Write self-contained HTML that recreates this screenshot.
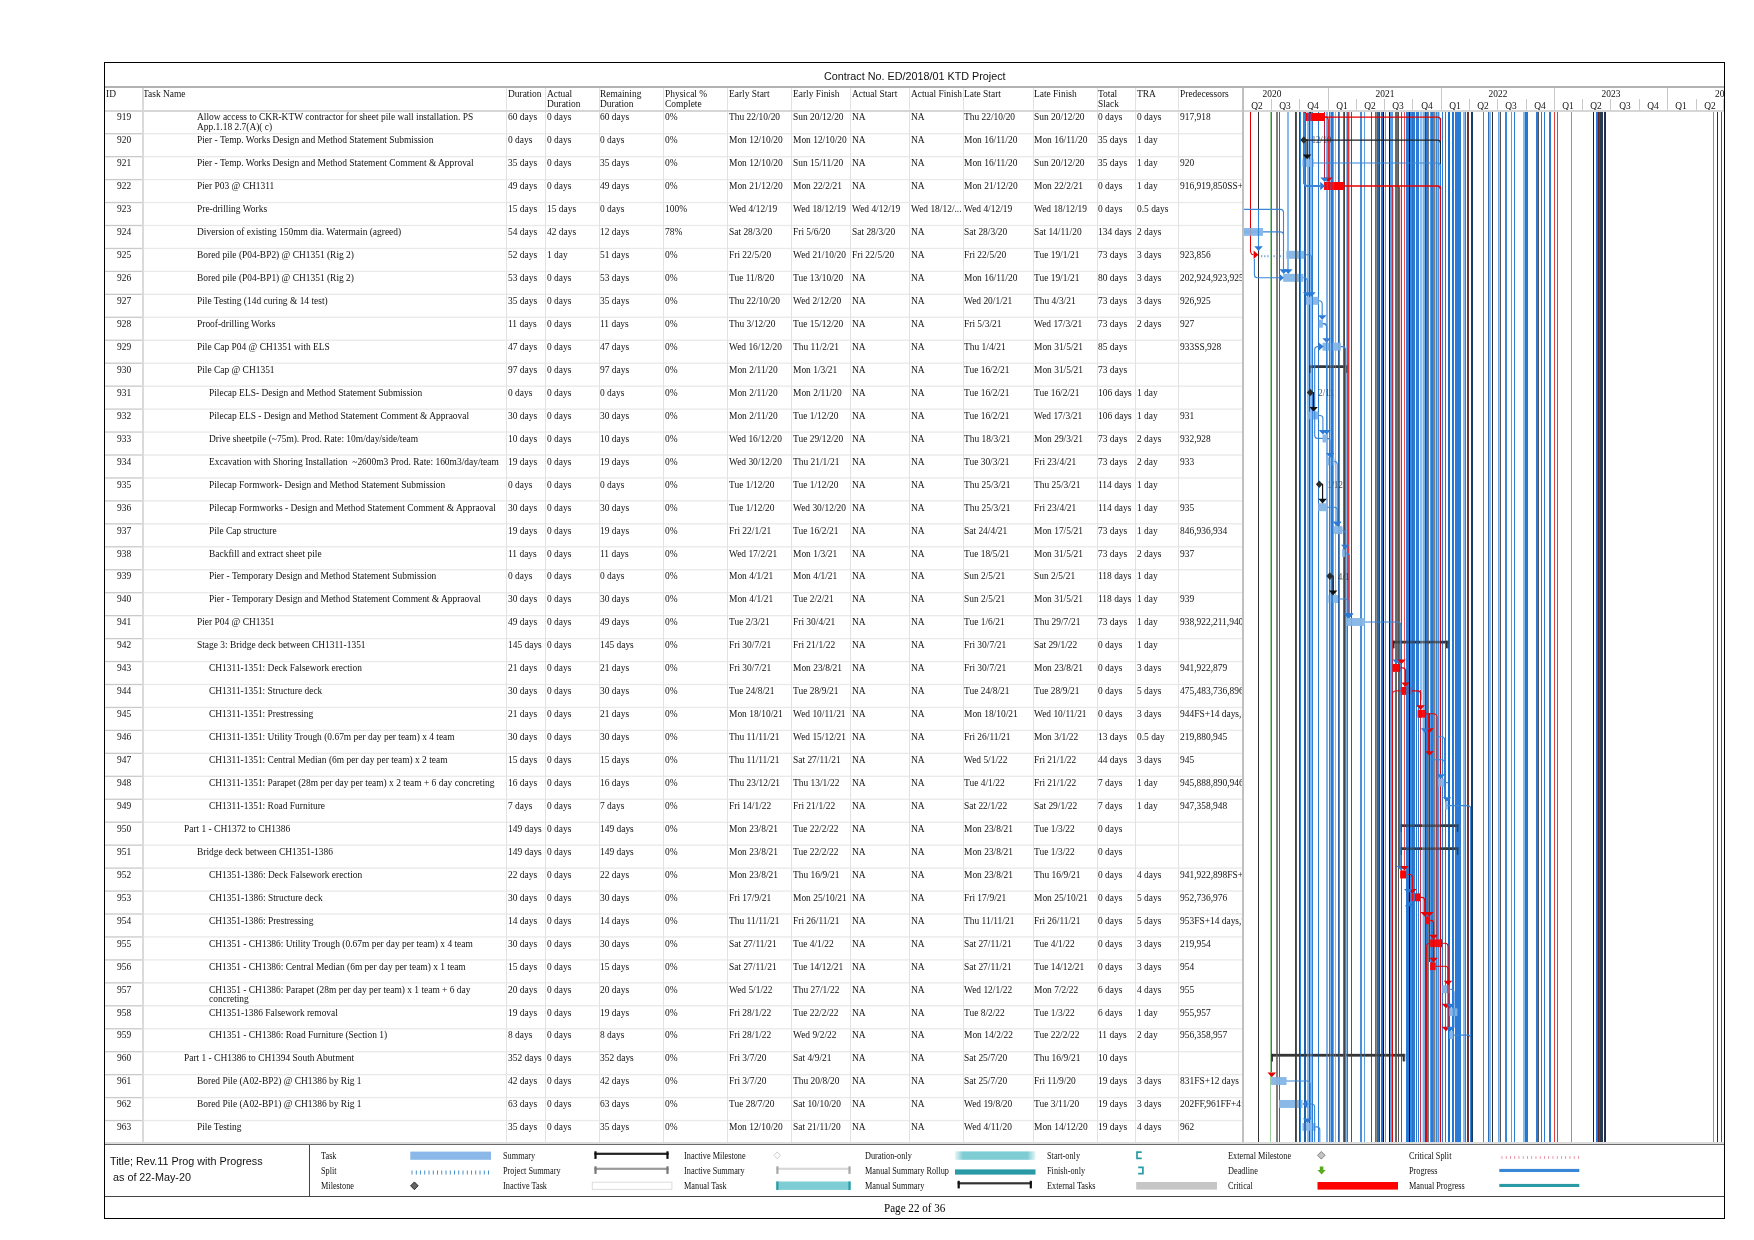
<!DOCTYPE html><html><head><meta charset="utf-8"><title>Gantt</title><style>
html,body{margin:0;padding:0;background:#fff}
body{width:1754px;height:1240px;position:relative;overflow:hidden;font-family:"Liberation Serif",serif;color:#000}
.t{position:absolute;white-space:pre;font-size:11.2px;line-height:12px;transform:scaleX(.843);transform-origin:0 0;color:#111}
.l{position:absolute;white-space:pre;font-size:9.33px;line-height:11px;transform:scaleX(.885);transform-origin:0 0;color:#111}
.s{position:absolute;white-space:pre;font-family:"Liberation Sans",sans-serif;font-size:11px;line-height:13px;transform:scaleX(.98);transform-origin:0 0;color:#111}
.q{position:absolute;white-space:pre;font-size:11.2px;line-height:12px;color:#111;text-align:center;transform:scaleX(.843);transform-origin:50% 0}
svg{position:absolute;left:0;top:0}

</style></head><body><div id="tx" style="position:absolute;left:0;top:0;width:1754px;height:1240px;will-change:transform">
<span class="t" style="left:106px;top:87.12px">ID</span>
<span class="t" style="left:143.4px;top:87.12px">Task Name</span>
<span class="t" style="left:507.8px;top:87.12px">Duration</span>
<span class="t" style="left:546.5px;top:87.12px">Actual</span>
<span class="t" style="left:546.5px;top:96.52px">Duration</span>
<span class="t" style="left:600.2px;top:87.12px">Remaining</span>
<span class="t" style="left:600.2px;top:96.52px">Duration</span>
<span class="t" style="left:664.5px;top:87.12px">Physical %</span>
<span class="t" style="left:664.5px;top:96.52px">Complete</span>
<span class="t" style="left:728.7px;top:87.12px">Early Start</span>
<span class="t" style="left:792.6px;top:87.12px">Early Finish</span>
<span class="t" style="left:851.7px;top:87.12px">Actual Start</span>
<span class="t" style="left:910.7px;top:87.12px">Actual Finish</span>
<span class="t" style="left:964.4px;top:87.12px">Late Start</span>
<span class="t" style="left:1034.3px;top:87.12px">Late Finish</span>
<span class="t" style="left:1098.1px;top:87.12px">Total</span>
<span class="t" style="left:1098.1px;top:96.52px">Slack</span>
<span class="t" style="left:1136.5px;top:87.12px">TRA</span>
<span class="t" style="left:1179.6px;top:87.12px">Predecessors</span>
<span class="t" style="left:116.6px;top:110.47px">919</span>
<span class="t" style="left:196.7px;top:110.47px">Allow access to CKR-KTW contractor for sheet pile wall installation. PS</span>
<span class="t" style="left:196.7px;top:120.07px">App.1.18 2.7(A)( c)</span>
<span class="t" style="left:507.8px;top:110.47px">60 days</span>
<span class="t" style="left:546.5px;top:110.47px">0 days</span>
<span class="t" style="left:600.2px;top:110.47px">60 days</span>
<span class="t" style="left:664.5px;top:110.47px">0%</span>
<span class="t" style="left:728.7px;top:110.47px">Thu 22/10/20</span>
<span class="t" style="left:792.6px;top:110.47px">Sun 20/12/20</span>
<span class="t" style="left:851.7px;top:110.47px">NA</span>
<span class="t" style="left:910.7px;top:110.47px">NA</span>
<span class="t" style="left:964.4px;top:110.47px">Thu 22/10/20</span>
<span class="t" style="left:1034.3px;top:110.47px">Sun 20/12/20</span>
<span class="t" style="left:1098.1px;top:110.47px">0 days</span>
<span class="t" style="left:1136.5px;top:110.47px">0 days</span>
<span class="t" style="left:1179.6px;top:110.47px;width:73.6px;overflow:hidden">917,918</span>
<span class="t" style="left:116.6px;top:133.42px">920</span>
<span class="t" style="left:196.7px;top:133.42px">Pier - Temp. Works Design and Method Statement Submission</span>
<span class="t" style="left:507.8px;top:133.42px">0 days</span>
<span class="t" style="left:546.5px;top:133.42px">0 days</span>
<span class="t" style="left:600.2px;top:133.42px">0 days</span>
<span class="t" style="left:664.5px;top:133.42px">0%</span>
<span class="t" style="left:728.7px;top:133.42px">Mon 12/10/20</span>
<span class="t" style="left:792.6px;top:133.42px">Mon 12/10/20</span>
<span class="t" style="left:851.7px;top:133.42px">NA</span>
<span class="t" style="left:910.7px;top:133.42px">NA</span>
<span class="t" style="left:964.4px;top:133.42px">Mon 16/11/20</span>
<span class="t" style="left:1034.3px;top:133.42px">Mon 16/11/20</span>
<span class="t" style="left:1098.1px;top:133.42px">35 days</span>
<span class="t" style="left:1136.5px;top:133.42px">1 day</span>
<span class="t" style="left:116.6px;top:156.37px">921</span>
<span class="t" style="left:196.7px;top:156.37px">Pier - Temp. Works Design and Method Statement Comment &amp; Approval</span>
<span class="t" style="left:507.8px;top:156.37px">35 days</span>
<span class="t" style="left:546.5px;top:156.37px">0 days</span>
<span class="t" style="left:600.2px;top:156.37px">35 days</span>
<span class="t" style="left:664.5px;top:156.37px">0%</span>
<span class="t" style="left:728.7px;top:156.37px">Mon 12/10/20</span>
<span class="t" style="left:792.6px;top:156.37px">Sun 15/11/20</span>
<span class="t" style="left:851.7px;top:156.37px">NA</span>
<span class="t" style="left:910.7px;top:156.37px">NA</span>
<span class="t" style="left:964.4px;top:156.37px">Mon 16/11/20</span>
<span class="t" style="left:1034.3px;top:156.37px">Sun 20/12/20</span>
<span class="t" style="left:1098.1px;top:156.37px">35 days</span>
<span class="t" style="left:1136.5px;top:156.37px">1 day</span>
<span class="t" style="left:1179.6px;top:156.37px;width:73.6px;overflow:hidden">920</span>
<span class="t" style="left:116.6px;top:179.32px">922</span>
<span class="t" style="left:196.7px;top:179.32px">Pier P03 @ CH1311</span>
<span class="t" style="left:507.8px;top:179.32px">49 days</span>
<span class="t" style="left:546.5px;top:179.32px">0 days</span>
<span class="t" style="left:600.2px;top:179.32px">49 days</span>
<span class="t" style="left:664.5px;top:179.32px">0%</span>
<span class="t" style="left:728.7px;top:179.32px">Mon 21/12/20</span>
<span class="t" style="left:792.6px;top:179.32px">Mon 22/2/21</span>
<span class="t" style="left:851.7px;top:179.32px">NA</span>
<span class="t" style="left:910.7px;top:179.32px">NA</span>
<span class="t" style="left:964.4px;top:179.32px">Mon 21/12/20</span>
<span class="t" style="left:1034.3px;top:179.32px">Mon 22/2/21</span>
<span class="t" style="left:1098.1px;top:179.32px">0 days</span>
<span class="t" style="left:1136.5px;top:179.32px">1 day</span>
<span class="t" style="left:1179.6px;top:179.32px;width:73.6px;overflow:hidden">916,919,850SS+</span>
<span class="t" style="left:116.6px;top:202.27px">923</span>
<span class="t" style="left:196.7px;top:202.27px">Pre-drilling Works</span>
<span class="t" style="left:507.8px;top:202.27px">15 days</span>
<span class="t" style="left:546.5px;top:202.27px">15 days</span>
<span class="t" style="left:600.2px;top:202.27px">0 days</span>
<span class="t" style="left:664.5px;top:202.27px">100%</span>
<span class="t" style="left:728.7px;top:202.27px">Wed 4/12/19</span>
<span class="t" style="left:792.6px;top:202.27px">Wed 18/12/19</span>
<span class="t" style="left:851.7px;top:202.27px">Wed 4/12/19</span>
<span class="t" style="left:910.7px;top:202.27px">Wed 18/12/...</span>
<span class="t" style="left:964.4px;top:202.27px">Wed 4/12/19</span>
<span class="t" style="left:1034.3px;top:202.27px">Wed 18/12/19</span>
<span class="t" style="left:1098.1px;top:202.27px">0 days</span>
<span class="t" style="left:1136.5px;top:202.27px">0.5 days</span>
<span class="t" style="left:116.6px;top:225.22px">924</span>
<span class="t" style="left:196.7px;top:225.22px">Diversion of existing 150mm dia. Watermain (agreed)</span>
<span class="t" style="left:507.8px;top:225.22px">54 days</span>
<span class="t" style="left:546.5px;top:225.22px">42 days</span>
<span class="t" style="left:600.2px;top:225.22px">12 days</span>
<span class="t" style="left:664.5px;top:225.22px">78%</span>
<span class="t" style="left:728.7px;top:225.22px">Sat 28/3/20</span>
<span class="t" style="left:792.6px;top:225.22px">Fri 5/6/20</span>
<span class="t" style="left:851.7px;top:225.22px">Sat 28/3/20</span>
<span class="t" style="left:910.7px;top:225.22px">NA</span>
<span class="t" style="left:964.4px;top:225.22px">Sat 28/3/20</span>
<span class="t" style="left:1034.3px;top:225.22px">Sat 14/11/20</span>
<span class="t" style="left:1098.1px;top:225.22px">134 days</span>
<span class="t" style="left:1136.5px;top:225.22px">2 days</span>
<span class="t" style="left:116.6px;top:248.17px">925</span>
<span class="t" style="left:196.7px;top:248.17px">Bored pile (P04-BP2) @ CH1351 (Rig 2)</span>
<span class="t" style="left:507.8px;top:248.17px">52 days</span>
<span class="t" style="left:546.5px;top:248.17px">1 day</span>
<span class="t" style="left:600.2px;top:248.17px">51 days</span>
<span class="t" style="left:664.5px;top:248.17px">0%</span>
<span class="t" style="left:728.7px;top:248.17px">Fri 22/5/20</span>
<span class="t" style="left:792.6px;top:248.17px">Wed 21/10/20</span>
<span class="t" style="left:851.7px;top:248.17px">Fri 22/5/20</span>
<span class="t" style="left:910.7px;top:248.17px">NA</span>
<span class="t" style="left:964.4px;top:248.17px">Fri 22/5/20</span>
<span class="t" style="left:1034.3px;top:248.17px">Tue 19/1/21</span>
<span class="t" style="left:1098.1px;top:248.17px">73 days</span>
<span class="t" style="left:1136.5px;top:248.17px">3 days</span>
<span class="t" style="left:1179.6px;top:248.17px;width:73.6px;overflow:hidden">923,856</span>
<span class="t" style="left:116.6px;top:271.12px">926</span>
<span class="t" style="left:196.7px;top:271.12px">Bored pile (P04-BP1) @ CH1351 (Rig 2)</span>
<span class="t" style="left:507.8px;top:271.12px">53 days</span>
<span class="t" style="left:546.5px;top:271.12px">0 days</span>
<span class="t" style="left:600.2px;top:271.12px">53 days</span>
<span class="t" style="left:664.5px;top:271.12px">0%</span>
<span class="t" style="left:728.7px;top:271.12px">Tue 11/8/20</span>
<span class="t" style="left:792.6px;top:271.12px">Tue 13/10/20</span>
<span class="t" style="left:851.7px;top:271.12px">NA</span>
<span class="t" style="left:910.7px;top:271.12px">NA</span>
<span class="t" style="left:964.4px;top:271.12px">Mon 16/11/20</span>
<span class="t" style="left:1034.3px;top:271.12px">Tue 19/1/21</span>
<span class="t" style="left:1098.1px;top:271.12px">80 days</span>
<span class="t" style="left:1136.5px;top:271.12px">3 days</span>
<span class="t" style="left:1179.6px;top:271.12px;width:73.6px;overflow:hidden">202,924,923,925</span>
<span class="t" style="left:116.6px;top:294.07px">927</span>
<span class="t" style="left:196.7px;top:294.07px">Pile Testing (14d curing &amp; 14 test)</span>
<span class="t" style="left:507.8px;top:294.07px">35 days</span>
<span class="t" style="left:546.5px;top:294.07px">0 days</span>
<span class="t" style="left:600.2px;top:294.07px">35 days</span>
<span class="t" style="left:664.5px;top:294.07px">0%</span>
<span class="t" style="left:728.7px;top:294.07px">Thu 22/10/20</span>
<span class="t" style="left:792.6px;top:294.07px">Wed 2/12/20</span>
<span class="t" style="left:851.7px;top:294.07px">NA</span>
<span class="t" style="left:910.7px;top:294.07px">NA</span>
<span class="t" style="left:964.4px;top:294.07px">Wed 20/1/21</span>
<span class="t" style="left:1034.3px;top:294.07px">Thu 4/3/21</span>
<span class="t" style="left:1098.1px;top:294.07px">73 days</span>
<span class="t" style="left:1136.5px;top:294.07px">3 days</span>
<span class="t" style="left:1179.6px;top:294.07px;width:73.6px;overflow:hidden">926,925</span>
<span class="t" style="left:116.6px;top:317.02px">928</span>
<span class="t" style="left:196.7px;top:317.02px">Proof-drilling Works</span>
<span class="t" style="left:507.8px;top:317.02px">11 days</span>
<span class="t" style="left:546.5px;top:317.02px">0 days</span>
<span class="t" style="left:600.2px;top:317.02px">11 days</span>
<span class="t" style="left:664.5px;top:317.02px">0%</span>
<span class="t" style="left:728.7px;top:317.02px">Thu 3/12/20</span>
<span class="t" style="left:792.6px;top:317.02px">Tue 15/12/20</span>
<span class="t" style="left:851.7px;top:317.02px">NA</span>
<span class="t" style="left:910.7px;top:317.02px">NA</span>
<span class="t" style="left:964.4px;top:317.02px">Fri 5/3/21</span>
<span class="t" style="left:1034.3px;top:317.02px">Wed 17/3/21</span>
<span class="t" style="left:1098.1px;top:317.02px">73 days</span>
<span class="t" style="left:1136.5px;top:317.02px">2 days</span>
<span class="t" style="left:1179.6px;top:317.02px;width:73.6px;overflow:hidden">927</span>
<span class="t" style="left:116.6px;top:339.97px">929</span>
<span class="t" style="left:196.7px;top:339.97px">Pile Cap P04 @ CH1351 with ELS</span>
<span class="t" style="left:507.8px;top:339.97px">47 days</span>
<span class="t" style="left:546.5px;top:339.97px">0 days</span>
<span class="t" style="left:600.2px;top:339.97px">47 days</span>
<span class="t" style="left:664.5px;top:339.97px">0%</span>
<span class="t" style="left:728.7px;top:339.97px">Wed 16/12/20</span>
<span class="t" style="left:792.6px;top:339.97px">Thu 11/2/21</span>
<span class="t" style="left:851.7px;top:339.97px">NA</span>
<span class="t" style="left:910.7px;top:339.97px">NA</span>
<span class="t" style="left:964.4px;top:339.97px">Thu 1/4/21</span>
<span class="t" style="left:1034.3px;top:339.97px">Mon 31/5/21</span>
<span class="t" style="left:1098.1px;top:339.97px">85 days</span>
<span class="t" style="left:1179.6px;top:339.97px;width:73.6px;overflow:hidden">933SS,928</span>
<span class="t" style="left:116.6px;top:362.92px">930</span>
<span class="t" style="left:196.7px;top:362.92px">Pile Cap @ CH1351</span>
<span class="t" style="left:507.8px;top:362.92px">97 days</span>
<span class="t" style="left:546.5px;top:362.92px">0 days</span>
<span class="t" style="left:600.2px;top:362.92px">97 days</span>
<span class="t" style="left:664.5px;top:362.92px">0%</span>
<span class="t" style="left:728.7px;top:362.92px">Mon 2/11/20</span>
<span class="t" style="left:792.6px;top:362.92px">Mon 1/3/21</span>
<span class="t" style="left:851.7px;top:362.92px">NA</span>
<span class="t" style="left:910.7px;top:362.92px">NA</span>
<span class="t" style="left:964.4px;top:362.92px">Tue 16/2/21</span>
<span class="t" style="left:1034.3px;top:362.92px">Mon 31/5/21</span>
<span class="t" style="left:1098.1px;top:362.92px">73 days</span>
<span class="t" style="left:116.6px;top:385.87px">931</span>
<span class="t" style="left:209.1px;top:385.87px">Pilecap ELS- Design and Method Statement Submission</span>
<span class="t" style="left:507.8px;top:385.87px">0 days</span>
<span class="t" style="left:546.5px;top:385.87px">0 days</span>
<span class="t" style="left:600.2px;top:385.87px">0 days</span>
<span class="t" style="left:664.5px;top:385.87px">0%</span>
<span class="t" style="left:728.7px;top:385.87px">Mon 2/11/20</span>
<span class="t" style="left:792.6px;top:385.87px">Mon 2/11/20</span>
<span class="t" style="left:851.7px;top:385.87px">NA</span>
<span class="t" style="left:910.7px;top:385.87px">NA</span>
<span class="t" style="left:964.4px;top:385.87px">Tue 16/2/21</span>
<span class="t" style="left:1034.3px;top:385.87px">Tue 16/2/21</span>
<span class="t" style="left:1098.1px;top:385.87px">106 days</span>
<span class="t" style="left:1136.5px;top:385.87px">1 day</span>
<span class="t" style="left:116.6px;top:408.82px">932</span>
<span class="t" style="left:209.1px;top:408.82px">Pilecap ELS - Design and Method Statement Comment &amp; Appraoval</span>
<span class="t" style="left:507.8px;top:408.82px">30 days</span>
<span class="t" style="left:546.5px;top:408.82px">0 days</span>
<span class="t" style="left:600.2px;top:408.82px">30 days</span>
<span class="t" style="left:664.5px;top:408.82px">0%</span>
<span class="t" style="left:728.7px;top:408.82px">Mon 2/11/20</span>
<span class="t" style="left:792.6px;top:408.82px">Tue 1/12/20</span>
<span class="t" style="left:851.7px;top:408.82px">NA</span>
<span class="t" style="left:910.7px;top:408.82px">NA</span>
<span class="t" style="left:964.4px;top:408.82px">Tue 16/2/21</span>
<span class="t" style="left:1034.3px;top:408.82px">Wed 17/3/21</span>
<span class="t" style="left:1098.1px;top:408.82px">106 days</span>
<span class="t" style="left:1136.5px;top:408.82px">1 day</span>
<span class="t" style="left:1179.6px;top:408.82px;width:73.6px;overflow:hidden">931</span>
<span class="t" style="left:116.6px;top:431.77px">933</span>
<span class="t" style="left:209.1px;top:431.77px">Drive sheetpile (~75m). Prod. Rate: 10m/day/side/team</span>
<span class="t" style="left:507.8px;top:431.77px">10 days</span>
<span class="t" style="left:546.5px;top:431.77px">0 days</span>
<span class="t" style="left:600.2px;top:431.77px">10 days</span>
<span class="t" style="left:664.5px;top:431.77px">0%</span>
<span class="t" style="left:728.7px;top:431.77px">Wed 16/12/20</span>
<span class="t" style="left:792.6px;top:431.77px">Tue 29/12/20</span>
<span class="t" style="left:851.7px;top:431.77px">NA</span>
<span class="t" style="left:910.7px;top:431.77px">NA</span>
<span class="t" style="left:964.4px;top:431.77px">Thu 18/3/21</span>
<span class="t" style="left:1034.3px;top:431.77px">Mon 29/3/21</span>
<span class="t" style="left:1098.1px;top:431.77px">73 days</span>
<span class="t" style="left:1136.5px;top:431.77px">2 days</span>
<span class="t" style="left:1179.6px;top:431.77px;width:73.6px;overflow:hidden">932,928</span>
<span class="t" style="left:116.6px;top:454.72px">934</span>
<span class="t" style="left:209.1px;top:454.72px">Excavation with Shoring Installation  ~2600m3 Prod. Rate: 160m3/day/team</span>
<span class="t" style="left:507.8px;top:454.72px">19 days</span>
<span class="t" style="left:546.5px;top:454.72px">0 days</span>
<span class="t" style="left:600.2px;top:454.72px">19 days</span>
<span class="t" style="left:664.5px;top:454.72px">0%</span>
<span class="t" style="left:728.7px;top:454.72px">Wed 30/12/20</span>
<span class="t" style="left:792.6px;top:454.72px">Thu 21/1/21</span>
<span class="t" style="left:851.7px;top:454.72px">NA</span>
<span class="t" style="left:910.7px;top:454.72px">NA</span>
<span class="t" style="left:964.4px;top:454.72px">Tue 30/3/21</span>
<span class="t" style="left:1034.3px;top:454.72px">Fri 23/4/21</span>
<span class="t" style="left:1098.1px;top:454.72px">73 days</span>
<span class="t" style="left:1136.5px;top:454.72px">2 day</span>
<span class="t" style="left:1179.6px;top:454.72px;width:73.6px;overflow:hidden">933</span>
<span class="t" style="left:116.6px;top:477.67px">935</span>
<span class="t" style="left:209.1px;top:477.67px">Pilecap Formwork- Design and Method Statement Submission</span>
<span class="t" style="left:507.8px;top:477.67px">0 days</span>
<span class="t" style="left:546.5px;top:477.67px">0 days</span>
<span class="t" style="left:600.2px;top:477.67px">0 days</span>
<span class="t" style="left:664.5px;top:477.67px">0%</span>
<span class="t" style="left:728.7px;top:477.67px">Tue 1/12/20</span>
<span class="t" style="left:792.6px;top:477.67px">Tue 1/12/20</span>
<span class="t" style="left:851.7px;top:477.67px">NA</span>
<span class="t" style="left:910.7px;top:477.67px">NA</span>
<span class="t" style="left:964.4px;top:477.67px">Thu 25/3/21</span>
<span class="t" style="left:1034.3px;top:477.67px">Thu 25/3/21</span>
<span class="t" style="left:1098.1px;top:477.67px">114 days</span>
<span class="t" style="left:1136.5px;top:477.67px">1 day</span>
<span class="t" style="left:116.6px;top:500.62px">936</span>
<span class="t" style="left:209.1px;top:500.62px">Pilecap Formworks - Design and Method Statement Comment &amp; Appraoval</span>
<span class="t" style="left:507.8px;top:500.62px">30 days</span>
<span class="t" style="left:546.5px;top:500.62px">0 days</span>
<span class="t" style="left:600.2px;top:500.62px">30 days</span>
<span class="t" style="left:664.5px;top:500.62px">0%</span>
<span class="t" style="left:728.7px;top:500.62px">Tue 1/12/20</span>
<span class="t" style="left:792.6px;top:500.62px">Wed 30/12/20</span>
<span class="t" style="left:851.7px;top:500.62px">NA</span>
<span class="t" style="left:910.7px;top:500.62px">NA</span>
<span class="t" style="left:964.4px;top:500.62px">Thu 25/3/21</span>
<span class="t" style="left:1034.3px;top:500.62px">Fri 23/4/21</span>
<span class="t" style="left:1098.1px;top:500.62px">114 days</span>
<span class="t" style="left:1136.5px;top:500.62px">1 day</span>
<span class="t" style="left:1179.6px;top:500.62px;width:73.6px;overflow:hidden">935</span>
<span class="t" style="left:116.6px;top:523.57px">937</span>
<span class="t" style="left:209.1px;top:523.57px">Pile Cap structure</span>
<span class="t" style="left:507.8px;top:523.57px">19 days</span>
<span class="t" style="left:546.5px;top:523.57px">0 days</span>
<span class="t" style="left:600.2px;top:523.57px">19 days</span>
<span class="t" style="left:664.5px;top:523.57px">0%</span>
<span class="t" style="left:728.7px;top:523.57px">Fri 22/1/21</span>
<span class="t" style="left:792.6px;top:523.57px">Tue 16/2/21</span>
<span class="t" style="left:851.7px;top:523.57px">NA</span>
<span class="t" style="left:910.7px;top:523.57px">NA</span>
<span class="t" style="left:964.4px;top:523.57px">Sat 24/4/21</span>
<span class="t" style="left:1034.3px;top:523.57px">Mon 17/5/21</span>
<span class="t" style="left:1098.1px;top:523.57px">73 days</span>
<span class="t" style="left:1136.5px;top:523.57px">1 day</span>
<span class="t" style="left:1179.6px;top:523.57px;width:73.6px;overflow:hidden">846,936,934</span>
<span class="t" style="left:116.6px;top:546.52px">938</span>
<span class="t" style="left:209.1px;top:546.52px">Backfill and extract sheet pile</span>
<span class="t" style="left:507.8px;top:546.52px">11 days</span>
<span class="t" style="left:546.5px;top:546.52px">0 days</span>
<span class="t" style="left:600.2px;top:546.52px">11 days</span>
<span class="t" style="left:664.5px;top:546.52px">0%</span>
<span class="t" style="left:728.7px;top:546.52px">Wed 17/2/21</span>
<span class="t" style="left:792.6px;top:546.52px">Mon 1/3/21</span>
<span class="t" style="left:851.7px;top:546.52px">NA</span>
<span class="t" style="left:910.7px;top:546.52px">NA</span>
<span class="t" style="left:964.4px;top:546.52px">Tue 18/5/21</span>
<span class="t" style="left:1034.3px;top:546.52px">Mon 31/5/21</span>
<span class="t" style="left:1098.1px;top:546.52px">73 days</span>
<span class="t" style="left:1136.5px;top:546.52px">2 days</span>
<span class="t" style="left:1179.6px;top:546.52px;width:73.6px;overflow:hidden">937</span>
<span class="t" style="left:116.6px;top:569.47px">939</span>
<span class="t" style="left:209.1px;top:569.47px">Pier - Temporary Design and Method Statement Submission</span>
<span class="t" style="left:507.8px;top:569.47px">0 days</span>
<span class="t" style="left:546.5px;top:569.47px">0 days</span>
<span class="t" style="left:600.2px;top:569.47px">0 days</span>
<span class="t" style="left:664.5px;top:569.47px">0%</span>
<span class="t" style="left:728.7px;top:569.47px">Mon 4/1/21</span>
<span class="t" style="left:792.6px;top:569.47px">Mon 4/1/21</span>
<span class="t" style="left:851.7px;top:569.47px">NA</span>
<span class="t" style="left:910.7px;top:569.47px">NA</span>
<span class="t" style="left:964.4px;top:569.47px">Sun 2/5/21</span>
<span class="t" style="left:1034.3px;top:569.47px">Sun 2/5/21</span>
<span class="t" style="left:1098.1px;top:569.47px">118 days</span>
<span class="t" style="left:1136.5px;top:569.47px">1 day</span>
<span class="t" style="left:116.6px;top:592.42px">940</span>
<span class="t" style="left:209.1px;top:592.42px">Pier - Temporary Design and Method Statement Comment &amp; Appraoval</span>
<span class="t" style="left:507.8px;top:592.42px">30 days</span>
<span class="t" style="left:546.5px;top:592.42px">0 days</span>
<span class="t" style="left:600.2px;top:592.42px">30 days</span>
<span class="t" style="left:664.5px;top:592.42px">0%</span>
<span class="t" style="left:728.7px;top:592.42px">Mon 4/1/21</span>
<span class="t" style="left:792.6px;top:592.42px">Tue 2/2/21</span>
<span class="t" style="left:851.7px;top:592.42px">NA</span>
<span class="t" style="left:910.7px;top:592.42px">NA</span>
<span class="t" style="left:964.4px;top:592.42px">Sun 2/5/21</span>
<span class="t" style="left:1034.3px;top:592.42px">Mon 31/5/21</span>
<span class="t" style="left:1098.1px;top:592.42px">118 days</span>
<span class="t" style="left:1136.5px;top:592.42px">1 day</span>
<span class="t" style="left:1179.6px;top:592.42px;width:73.6px;overflow:hidden">939</span>
<span class="t" style="left:116.6px;top:615.37px">941</span>
<span class="t" style="left:196.7px;top:615.37px">Pier P04 @ CH1351</span>
<span class="t" style="left:507.8px;top:615.37px">49 days</span>
<span class="t" style="left:546.5px;top:615.37px">0 days</span>
<span class="t" style="left:600.2px;top:615.37px">49 days</span>
<span class="t" style="left:664.5px;top:615.37px">0%</span>
<span class="t" style="left:728.7px;top:615.37px">Tue 2/3/21</span>
<span class="t" style="left:792.6px;top:615.37px">Fri 30/4/21</span>
<span class="t" style="left:851.7px;top:615.37px">NA</span>
<span class="t" style="left:910.7px;top:615.37px">NA</span>
<span class="t" style="left:964.4px;top:615.37px">Tue 1/6/21</span>
<span class="t" style="left:1034.3px;top:615.37px">Thu 29/7/21</span>
<span class="t" style="left:1098.1px;top:615.37px">73 days</span>
<span class="t" style="left:1136.5px;top:615.37px">1 day</span>
<span class="t" style="left:1179.6px;top:615.37px;width:73.6px;overflow:hidden">938,922,211,940</span>
<span class="t" style="left:116.6px;top:638.32px">942</span>
<span class="t" style="left:196.7px;top:638.32px">Stage 3: Bridge deck between CH1311-1351</span>
<span class="t" style="left:507.8px;top:638.32px">145 days</span>
<span class="t" style="left:546.5px;top:638.32px">0 days</span>
<span class="t" style="left:600.2px;top:638.32px">145 days</span>
<span class="t" style="left:664.5px;top:638.32px">0%</span>
<span class="t" style="left:728.7px;top:638.32px">Fri 30/7/21</span>
<span class="t" style="left:792.6px;top:638.32px">Fri 21/1/22</span>
<span class="t" style="left:851.7px;top:638.32px">NA</span>
<span class="t" style="left:910.7px;top:638.32px">NA</span>
<span class="t" style="left:964.4px;top:638.32px">Fri 30/7/21</span>
<span class="t" style="left:1034.3px;top:638.32px">Sat 29/1/22</span>
<span class="t" style="left:1098.1px;top:638.32px">0 days</span>
<span class="t" style="left:1136.5px;top:638.32px">1 day</span>
<span class="t" style="left:116.6px;top:661.27px">943</span>
<span class="t" style="left:209.1px;top:661.27px">CH1311-1351: Deck Falsework erection</span>
<span class="t" style="left:507.8px;top:661.27px">21 days</span>
<span class="t" style="left:546.5px;top:661.27px">0 days</span>
<span class="t" style="left:600.2px;top:661.27px">21 days</span>
<span class="t" style="left:664.5px;top:661.27px">0%</span>
<span class="t" style="left:728.7px;top:661.27px">Fri 30/7/21</span>
<span class="t" style="left:792.6px;top:661.27px">Mon 23/8/21</span>
<span class="t" style="left:851.7px;top:661.27px">NA</span>
<span class="t" style="left:910.7px;top:661.27px">NA</span>
<span class="t" style="left:964.4px;top:661.27px">Fri 30/7/21</span>
<span class="t" style="left:1034.3px;top:661.27px">Mon 23/8/21</span>
<span class="t" style="left:1098.1px;top:661.27px">0 days</span>
<span class="t" style="left:1136.5px;top:661.27px">3 days</span>
<span class="t" style="left:1179.6px;top:661.27px;width:73.6px;overflow:hidden">941,922,879</span>
<span class="t" style="left:116.6px;top:684.22px">944</span>
<span class="t" style="left:209.1px;top:684.22px">CH1311-1351: Structure deck</span>
<span class="t" style="left:507.8px;top:684.22px">30 days</span>
<span class="t" style="left:546.5px;top:684.22px">0 days</span>
<span class="t" style="left:600.2px;top:684.22px">30 days</span>
<span class="t" style="left:664.5px;top:684.22px">0%</span>
<span class="t" style="left:728.7px;top:684.22px">Tue 24/8/21</span>
<span class="t" style="left:792.6px;top:684.22px">Tue 28/9/21</span>
<span class="t" style="left:851.7px;top:684.22px">NA</span>
<span class="t" style="left:910.7px;top:684.22px">NA</span>
<span class="t" style="left:964.4px;top:684.22px">Tue 24/8/21</span>
<span class="t" style="left:1034.3px;top:684.22px">Tue 28/9/21</span>
<span class="t" style="left:1098.1px;top:684.22px">0 days</span>
<span class="t" style="left:1136.5px;top:684.22px">5 days</span>
<span class="t" style="left:1179.6px;top:684.22px;width:73.6px;overflow:hidden">475,483,736,896</span>
<span class="t" style="left:116.6px;top:707.17px">945</span>
<span class="t" style="left:209.1px;top:707.17px">CH1311-1351: Prestressing</span>
<span class="t" style="left:507.8px;top:707.17px">21 days</span>
<span class="t" style="left:546.5px;top:707.17px">0 days</span>
<span class="t" style="left:600.2px;top:707.17px">21 days</span>
<span class="t" style="left:664.5px;top:707.17px">0%</span>
<span class="t" style="left:728.7px;top:707.17px">Mon 18/10/21</span>
<span class="t" style="left:792.6px;top:707.17px">Wed 10/11/21</span>
<span class="t" style="left:851.7px;top:707.17px">NA</span>
<span class="t" style="left:910.7px;top:707.17px">NA</span>
<span class="t" style="left:964.4px;top:707.17px">Mon 18/10/21</span>
<span class="t" style="left:1034.3px;top:707.17px">Wed 10/11/21</span>
<span class="t" style="left:1098.1px;top:707.17px">0 days</span>
<span class="t" style="left:1136.5px;top:707.17px">3 days</span>
<span class="t" style="left:1179.6px;top:707.17px;width:73.6px;overflow:hidden">944FS+14 days,8</span>
<span class="t" style="left:116.6px;top:730.12px">946</span>
<span class="t" style="left:209.1px;top:730.12px">CH1311-1351: Utility Trough (0.67m per day per team) x 4 team</span>
<span class="t" style="left:507.8px;top:730.12px">30 days</span>
<span class="t" style="left:546.5px;top:730.12px">0 days</span>
<span class="t" style="left:600.2px;top:730.12px">30 days</span>
<span class="t" style="left:664.5px;top:730.12px">0%</span>
<span class="t" style="left:728.7px;top:730.12px">Thu 11/11/21</span>
<span class="t" style="left:792.6px;top:730.12px">Wed 15/12/21</span>
<span class="t" style="left:851.7px;top:730.12px">NA</span>
<span class="t" style="left:910.7px;top:730.12px">NA</span>
<span class="t" style="left:964.4px;top:730.12px">Fri 26/11/21</span>
<span class="t" style="left:1034.3px;top:730.12px">Mon 3/1/22</span>
<span class="t" style="left:1098.1px;top:730.12px">13 days</span>
<span class="t" style="left:1136.5px;top:730.12px">0.5 day</span>
<span class="t" style="left:1179.6px;top:730.12px;width:73.6px;overflow:hidden">219,880,945</span>
<span class="t" style="left:116.6px;top:753.07px">947</span>
<span class="t" style="left:209.1px;top:753.07px">CH1311-1351: Central Median (6m per day per team) x 2 team</span>
<span class="t" style="left:507.8px;top:753.07px">15 days</span>
<span class="t" style="left:546.5px;top:753.07px">0 days</span>
<span class="t" style="left:600.2px;top:753.07px">15 days</span>
<span class="t" style="left:664.5px;top:753.07px">0%</span>
<span class="t" style="left:728.7px;top:753.07px">Thu 11/11/21</span>
<span class="t" style="left:792.6px;top:753.07px">Sat 27/11/21</span>
<span class="t" style="left:851.7px;top:753.07px">NA</span>
<span class="t" style="left:910.7px;top:753.07px">NA</span>
<span class="t" style="left:964.4px;top:753.07px">Wed 5/1/22</span>
<span class="t" style="left:1034.3px;top:753.07px">Fri 21/1/22</span>
<span class="t" style="left:1098.1px;top:753.07px">44 days</span>
<span class="t" style="left:1136.5px;top:753.07px">3 days</span>
<span class="t" style="left:1179.6px;top:753.07px;width:73.6px;overflow:hidden">945</span>
<span class="t" style="left:116.6px;top:776.02px">948</span>
<span class="t" style="left:209.1px;top:776.02px">CH1311-1351: Parapet (28m per day per team) x 2 team + 6 day concreting</span>
<span class="t" style="left:507.8px;top:776.02px">16 days</span>
<span class="t" style="left:546.5px;top:776.02px">0 days</span>
<span class="t" style="left:600.2px;top:776.02px">16 days</span>
<span class="t" style="left:664.5px;top:776.02px">0%</span>
<span class="t" style="left:728.7px;top:776.02px">Thu 23/12/21</span>
<span class="t" style="left:792.6px;top:776.02px">Thu 13/1/22</span>
<span class="t" style="left:851.7px;top:776.02px">NA</span>
<span class="t" style="left:910.7px;top:776.02px">NA</span>
<span class="t" style="left:964.4px;top:776.02px">Tue 4/1/22</span>
<span class="t" style="left:1034.3px;top:776.02px">Fri 21/1/22</span>
<span class="t" style="left:1098.1px;top:776.02px">7 days</span>
<span class="t" style="left:1136.5px;top:776.02px">1 day</span>
<span class="t" style="left:1179.6px;top:776.02px;width:73.6px;overflow:hidden">945,888,890,946</span>
<span class="t" style="left:116.6px;top:798.97px">949</span>
<span class="t" style="left:209.1px;top:798.97px">CH1311-1351: Road Furniture</span>
<span class="t" style="left:507.8px;top:798.97px">7 days</span>
<span class="t" style="left:546.5px;top:798.97px">0 days</span>
<span class="t" style="left:600.2px;top:798.97px">7 days</span>
<span class="t" style="left:664.5px;top:798.97px">0%</span>
<span class="t" style="left:728.7px;top:798.97px">Fri 14/1/22</span>
<span class="t" style="left:792.6px;top:798.97px">Fri 21/1/22</span>
<span class="t" style="left:851.7px;top:798.97px">NA</span>
<span class="t" style="left:910.7px;top:798.97px">NA</span>
<span class="t" style="left:964.4px;top:798.97px">Sat 22/1/22</span>
<span class="t" style="left:1034.3px;top:798.97px">Sat 29/1/22</span>
<span class="t" style="left:1098.1px;top:798.97px">7 days</span>
<span class="t" style="left:1136.5px;top:798.97px">1 day</span>
<span class="t" style="left:1179.6px;top:798.97px;width:73.6px;overflow:hidden">947,358,948</span>
<span class="t" style="left:116.6px;top:821.92px">950</span>
<span class="t" style="left:184.3px;top:821.92px">Part 1 - CH1372 to CH1386</span>
<span class="t" style="left:507.8px;top:821.92px">149 days</span>
<span class="t" style="left:546.5px;top:821.92px">0 days</span>
<span class="t" style="left:600.2px;top:821.92px">149 days</span>
<span class="t" style="left:664.5px;top:821.92px">0%</span>
<span class="t" style="left:728.7px;top:821.92px">Mon 23/8/21</span>
<span class="t" style="left:792.6px;top:821.92px">Tue 22/2/22</span>
<span class="t" style="left:851.7px;top:821.92px">NA</span>
<span class="t" style="left:910.7px;top:821.92px">NA</span>
<span class="t" style="left:964.4px;top:821.92px">Mon 23/8/21</span>
<span class="t" style="left:1034.3px;top:821.92px">Tue 1/3/22</span>
<span class="t" style="left:1098.1px;top:821.92px">0 days</span>
<span class="t" style="left:116.6px;top:844.87px">951</span>
<span class="t" style="left:196.7px;top:844.87px">Bridge deck between CH1351-1386</span>
<span class="t" style="left:507.8px;top:844.87px">149 days</span>
<span class="t" style="left:546.5px;top:844.87px">0 days</span>
<span class="t" style="left:600.2px;top:844.87px">149 days</span>
<span class="t" style="left:664.5px;top:844.87px">0%</span>
<span class="t" style="left:728.7px;top:844.87px">Mon 23/8/21</span>
<span class="t" style="left:792.6px;top:844.87px">Tue 22/2/22</span>
<span class="t" style="left:851.7px;top:844.87px">NA</span>
<span class="t" style="left:910.7px;top:844.87px">NA</span>
<span class="t" style="left:964.4px;top:844.87px">Mon 23/8/21</span>
<span class="t" style="left:1034.3px;top:844.87px">Tue 1/3/22</span>
<span class="t" style="left:1098.1px;top:844.87px">0 days</span>
<span class="t" style="left:116.6px;top:867.82px">952</span>
<span class="t" style="left:209.1px;top:867.82px">CH1351-1386: Deck Falsework erection</span>
<span class="t" style="left:507.8px;top:867.82px">22 days</span>
<span class="t" style="left:546.5px;top:867.82px">0 days</span>
<span class="t" style="left:600.2px;top:867.82px">22 days</span>
<span class="t" style="left:664.5px;top:867.82px">0%</span>
<span class="t" style="left:728.7px;top:867.82px">Mon 23/8/21</span>
<span class="t" style="left:792.6px;top:867.82px">Thu 16/9/21</span>
<span class="t" style="left:851.7px;top:867.82px">NA</span>
<span class="t" style="left:910.7px;top:867.82px">NA</span>
<span class="t" style="left:964.4px;top:867.82px">Mon 23/8/21</span>
<span class="t" style="left:1034.3px;top:867.82px">Thu 16/9/21</span>
<span class="t" style="left:1098.1px;top:867.82px">0 days</span>
<span class="t" style="left:1136.5px;top:867.82px">4 days</span>
<span class="t" style="left:1179.6px;top:867.82px;width:73.6px;overflow:hidden">941,922,898FS+</span>
<span class="t" style="left:116.6px;top:890.77px">953</span>
<span class="t" style="left:209.1px;top:890.77px">CH1351-1386: Structure deck</span>
<span class="t" style="left:507.8px;top:890.77px">30 days</span>
<span class="t" style="left:546.5px;top:890.77px">0 days</span>
<span class="t" style="left:600.2px;top:890.77px">30 days</span>
<span class="t" style="left:664.5px;top:890.77px">0%</span>
<span class="t" style="left:728.7px;top:890.77px">Fri 17/9/21</span>
<span class="t" style="left:792.6px;top:890.77px">Mon 25/10/21</span>
<span class="t" style="left:851.7px;top:890.77px">NA</span>
<span class="t" style="left:910.7px;top:890.77px">NA</span>
<span class="t" style="left:964.4px;top:890.77px">Fri 17/9/21</span>
<span class="t" style="left:1034.3px;top:890.77px">Mon 25/10/21</span>
<span class="t" style="left:1098.1px;top:890.77px">0 days</span>
<span class="t" style="left:1136.5px;top:890.77px">5 days</span>
<span class="t" style="left:1179.6px;top:890.77px;width:73.6px;overflow:hidden">952,736,976</span>
<span class="t" style="left:116.6px;top:913.72px">954</span>
<span class="t" style="left:209.1px;top:913.72px">CH1351-1386: Prestressing</span>
<span class="t" style="left:507.8px;top:913.72px">14 days</span>
<span class="t" style="left:546.5px;top:913.72px">0 days</span>
<span class="t" style="left:600.2px;top:913.72px">14 days</span>
<span class="t" style="left:664.5px;top:913.72px">0%</span>
<span class="t" style="left:728.7px;top:913.72px">Thu 11/11/21</span>
<span class="t" style="left:792.6px;top:913.72px">Fri 26/11/21</span>
<span class="t" style="left:851.7px;top:913.72px">NA</span>
<span class="t" style="left:910.7px;top:913.72px">NA</span>
<span class="t" style="left:964.4px;top:913.72px">Thu 11/11/21</span>
<span class="t" style="left:1034.3px;top:913.72px">Fri 26/11/21</span>
<span class="t" style="left:1098.1px;top:913.72px">0 days</span>
<span class="t" style="left:1136.5px;top:913.72px">5 days</span>
<span class="t" style="left:1179.6px;top:913.72px;width:73.6px;overflow:hidden">953FS+14 days,9</span>
<span class="t" style="left:116.6px;top:936.67px">955</span>
<span class="t" style="left:209.1px;top:936.67px">CH1351 - CH1386: Utility Trough (0.67m per day per team) x 4 team</span>
<span class="t" style="left:507.8px;top:936.67px">30 days</span>
<span class="t" style="left:546.5px;top:936.67px">0 days</span>
<span class="t" style="left:600.2px;top:936.67px">30 days</span>
<span class="t" style="left:664.5px;top:936.67px">0%</span>
<span class="t" style="left:728.7px;top:936.67px">Sat 27/11/21</span>
<span class="t" style="left:792.6px;top:936.67px">Tue 4/1/22</span>
<span class="t" style="left:851.7px;top:936.67px">NA</span>
<span class="t" style="left:910.7px;top:936.67px">NA</span>
<span class="t" style="left:964.4px;top:936.67px">Sat 27/11/21</span>
<span class="t" style="left:1034.3px;top:936.67px">Tue 4/1/22</span>
<span class="t" style="left:1098.1px;top:936.67px">0 days</span>
<span class="t" style="left:1136.5px;top:936.67px">3 days</span>
<span class="t" style="left:1179.6px;top:936.67px;width:73.6px;overflow:hidden">219,954</span>
<span class="t" style="left:116.6px;top:959.62px">956</span>
<span class="t" style="left:209.1px;top:959.62px">CH1351 - CH1386: Central Median (6m per day per team) x 1 team</span>
<span class="t" style="left:507.8px;top:959.62px">15 days</span>
<span class="t" style="left:546.5px;top:959.62px">0 days</span>
<span class="t" style="left:600.2px;top:959.62px">15 days</span>
<span class="t" style="left:664.5px;top:959.62px">0%</span>
<span class="t" style="left:728.7px;top:959.62px">Sat 27/11/21</span>
<span class="t" style="left:792.6px;top:959.62px">Tue 14/12/21</span>
<span class="t" style="left:851.7px;top:959.62px">NA</span>
<span class="t" style="left:910.7px;top:959.62px">NA</span>
<span class="t" style="left:964.4px;top:959.62px">Sat 27/11/21</span>
<span class="t" style="left:1034.3px;top:959.62px">Tue 14/12/21</span>
<span class="t" style="left:1098.1px;top:959.62px">0 days</span>
<span class="t" style="left:1136.5px;top:959.62px">3 days</span>
<span class="t" style="left:1179.6px;top:959.62px;width:73.6px;overflow:hidden">954</span>
<span class="t" style="left:116.6px;top:982.57px">957</span>
<span class="t" style="left:209.1px;top:982.57px">CH1351 - CH1386: Parapet (28m per day per team) x 1 team + 6 day</span>
<span class="t" style="left:209.1px;top:992.17px">concreting</span>
<span class="t" style="left:507.8px;top:982.57px">20 days</span>
<span class="t" style="left:546.5px;top:982.57px">0 days</span>
<span class="t" style="left:600.2px;top:982.57px">20 days</span>
<span class="t" style="left:664.5px;top:982.57px">0%</span>
<span class="t" style="left:728.7px;top:982.57px">Wed 5/1/22</span>
<span class="t" style="left:792.6px;top:982.57px">Thu 27/1/22</span>
<span class="t" style="left:851.7px;top:982.57px">NA</span>
<span class="t" style="left:910.7px;top:982.57px">NA</span>
<span class="t" style="left:964.4px;top:982.57px">Wed 12/1/22</span>
<span class="t" style="left:1034.3px;top:982.57px">Mon 7/2/22</span>
<span class="t" style="left:1098.1px;top:982.57px">6 days</span>
<span class="t" style="left:1136.5px;top:982.57px">4 days</span>
<span class="t" style="left:1179.6px;top:982.57px;width:73.6px;overflow:hidden">955</span>
<span class="t" style="left:116.6px;top:1005.52px">958</span>
<span class="t" style="left:209.1px;top:1005.52px">CH1351-1386 Falsework removal</span>
<span class="t" style="left:507.8px;top:1005.52px">19 days</span>
<span class="t" style="left:546.5px;top:1005.52px">0 days</span>
<span class="t" style="left:600.2px;top:1005.52px">19 days</span>
<span class="t" style="left:664.5px;top:1005.52px">0%</span>
<span class="t" style="left:728.7px;top:1005.52px">Fri 28/1/22</span>
<span class="t" style="left:792.6px;top:1005.52px">Tue 22/2/22</span>
<span class="t" style="left:851.7px;top:1005.52px">NA</span>
<span class="t" style="left:910.7px;top:1005.52px">NA</span>
<span class="t" style="left:964.4px;top:1005.52px">Tue 8/2/22</span>
<span class="t" style="left:1034.3px;top:1005.52px">Tue 1/3/22</span>
<span class="t" style="left:1098.1px;top:1005.52px">6 days</span>
<span class="t" style="left:1136.5px;top:1005.52px">1 day</span>
<span class="t" style="left:1179.6px;top:1005.52px;width:73.6px;overflow:hidden">955,957</span>
<span class="t" style="left:116.6px;top:1028.47px">959</span>
<span class="t" style="left:209.1px;top:1028.47px">CH1351 - CH1386: Road Furniture (Section 1)</span>
<span class="t" style="left:507.8px;top:1028.47px">8 days</span>
<span class="t" style="left:546.5px;top:1028.47px">0 days</span>
<span class="t" style="left:600.2px;top:1028.47px">8 days</span>
<span class="t" style="left:664.5px;top:1028.47px">0%</span>
<span class="t" style="left:728.7px;top:1028.47px">Fri 28/1/22</span>
<span class="t" style="left:792.6px;top:1028.47px">Wed 9/2/22</span>
<span class="t" style="left:851.7px;top:1028.47px">NA</span>
<span class="t" style="left:910.7px;top:1028.47px">NA</span>
<span class="t" style="left:964.4px;top:1028.47px">Mon 14/2/22</span>
<span class="t" style="left:1034.3px;top:1028.47px">Tue 22/2/22</span>
<span class="t" style="left:1098.1px;top:1028.47px">11 days</span>
<span class="t" style="left:1136.5px;top:1028.47px">2 day</span>
<span class="t" style="left:1179.6px;top:1028.47px;width:73.6px;overflow:hidden">956,358,957</span>
<span class="t" style="left:116.6px;top:1051.42px">960</span>
<span class="t" style="left:184.3px;top:1051.42px">Part 1 - CH1386 to CH1394 South Abutment</span>
<span class="t" style="left:507.8px;top:1051.42px">352 days</span>
<span class="t" style="left:546.5px;top:1051.42px">0 days</span>
<span class="t" style="left:600.2px;top:1051.42px">352 days</span>
<span class="t" style="left:664.5px;top:1051.42px">0%</span>
<span class="t" style="left:728.7px;top:1051.42px">Fri 3/7/20</span>
<span class="t" style="left:792.6px;top:1051.42px">Sat 4/9/21</span>
<span class="t" style="left:851.7px;top:1051.42px">NA</span>
<span class="t" style="left:910.7px;top:1051.42px">NA</span>
<span class="t" style="left:964.4px;top:1051.42px">Sat 25/7/20</span>
<span class="t" style="left:1034.3px;top:1051.42px">Thu 16/9/21</span>
<span class="t" style="left:1098.1px;top:1051.42px">10 days</span>
<span class="t" style="left:116.6px;top:1074.37px">961</span>
<span class="t" style="left:196.7px;top:1074.37px">Bored Pile (A02-BP2) @ CH1386 by Rig 1</span>
<span class="t" style="left:507.8px;top:1074.37px">42 days</span>
<span class="t" style="left:546.5px;top:1074.37px">0 days</span>
<span class="t" style="left:600.2px;top:1074.37px">42 days</span>
<span class="t" style="left:664.5px;top:1074.37px">0%</span>
<span class="t" style="left:728.7px;top:1074.37px">Fri 3/7/20</span>
<span class="t" style="left:792.6px;top:1074.37px">Thu 20/8/20</span>
<span class="t" style="left:851.7px;top:1074.37px">NA</span>
<span class="t" style="left:910.7px;top:1074.37px">NA</span>
<span class="t" style="left:964.4px;top:1074.37px">Sat 25/7/20</span>
<span class="t" style="left:1034.3px;top:1074.37px">Fri 11/9/20</span>
<span class="t" style="left:1098.1px;top:1074.37px">19 days</span>
<span class="t" style="left:1136.5px;top:1074.37px">3 days</span>
<span class="t" style="left:1179.6px;top:1074.37px;width:73.6px;overflow:hidden">831FS+12 days</span>
<span class="t" style="left:116.6px;top:1097.32px">962</span>
<span class="t" style="left:196.7px;top:1097.32px">Bored Pile (A02-BP1) @ CH1386 by Rig 1</span>
<span class="t" style="left:507.8px;top:1097.32px">63 days</span>
<span class="t" style="left:546.5px;top:1097.32px">0 days</span>
<span class="t" style="left:600.2px;top:1097.32px">63 days</span>
<span class="t" style="left:664.5px;top:1097.32px">0%</span>
<span class="t" style="left:728.7px;top:1097.32px">Tue 28/7/20</span>
<span class="t" style="left:792.6px;top:1097.32px">Sat 10/10/20</span>
<span class="t" style="left:851.7px;top:1097.32px">NA</span>
<span class="t" style="left:910.7px;top:1097.32px">NA</span>
<span class="t" style="left:964.4px;top:1097.32px">Wed 19/8/20</span>
<span class="t" style="left:1034.3px;top:1097.32px">Tue 3/11/20</span>
<span class="t" style="left:1098.1px;top:1097.32px">19 days</span>
<span class="t" style="left:1136.5px;top:1097.32px">3 days</span>
<span class="t" style="left:1179.6px;top:1097.32px;width:73.6px;overflow:hidden">202FF,961FF+4:</span>
<span class="t" style="left:116.6px;top:1120.27px">963</span>
<span class="t" style="left:196.7px;top:1120.27px">Pile Testing</span>
<span class="t" style="left:507.8px;top:1120.27px">35 days</span>
<span class="t" style="left:546.5px;top:1120.27px">0 days</span>
<span class="t" style="left:600.2px;top:1120.27px">35 days</span>
<span class="t" style="left:664.5px;top:1120.27px">0%</span>
<span class="t" style="left:728.7px;top:1120.27px">Mon 12/10/20</span>
<span class="t" style="left:792.6px;top:1120.27px">Sat 21/11/20</span>
<span class="t" style="left:851.7px;top:1120.27px">NA</span>
<span class="t" style="left:910.7px;top:1120.27px">NA</span>
<span class="t" style="left:964.4px;top:1120.27px">Wed 4/11/20</span>
<span class="t" style="left:1034.3px;top:1120.27px">Mon 14/12/20</span>
<span class="t" style="left:1098.1px;top:1120.27px">19 days</span>
<span class="t" style="left:1136.5px;top:1120.27px">4 days</span>
<span class="t" style="left:1179.6px;top:1120.27px;width:73.6px;overflow:hidden">962</span>
<span class="s" style="left:824px;top:70.1875px">Contract No. ED/2018/01 KTD Project</span>
<span class="s" style="left:110.3px;top:1155.29px">Title; Rev.11 Prog with Progress</span>
<span class="s" style="left:113.3px;top:1170.99px">as of 22-May-20</span>
<span style="position:absolute;left:884.2px;top:1200.6px;font-size:12px;line-height:14px;white-space:pre;color:#000;transform:scaleX(.925);transform-origin:0 0">Page 22 of 36</span>
<span class="l" style="left:321.3px;top:1150.85px">Task</span>
<span class="l" style="left:321.3px;top:1165.85px">Split</span>
<span class="l" style="left:321.3px;top:1180.95px">Milestone</span>
<span class="l" style="left:502.7px;top:1150.85px">Summary</span>
<span class="l" style="left:502.7px;top:1165.85px">Project Summary</span>
<span class="l" style="left:502.7px;top:1180.95px">Inactive Task</span>
<span class="l" style="left:684px;top:1150.85px">Inactive Milestone</span>
<span class="l" style="left:684px;top:1165.85px">Inactive Summary</span>
<span class="l" style="left:684px;top:1180.95px">Manual Task</span>
<span class="l" style="left:865.3px;top:1150.85px">Duration-only</span>
<span class="l" style="left:865.3px;top:1165.85px">Manual Summary Rollup</span>
<span class="l" style="left:865.3px;top:1180.95px">Manual Summary</span>
<span class="l" style="left:1046.6px;top:1150.85px">Start-only</span>
<span class="l" style="left:1046.6px;top:1165.85px">Finish-only</span>
<span class="l" style="left:1046.6px;top:1180.95px">External Tasks</span>
<span class="l" style="left:1227.9px;top:1150.85px">External Milestone</span>
<span class="l" style="left:1227.9px;top:1165.85px">Deadline</span>
<span class="l" style="left:1227.9px;top:1180.95px">Critical</span>
<span class="l" style="left:1409.2px;top:1150.85px">Critical Split</span>
<span class="l" style="left:1409.2px;top:1165.85px">Progress</span>
<span class="l" style="left:1409.2px;top:1180.95px">Manual Progress</span>
<span class="q" style="left:1251.53px;width:40px;top:86.72px">2020</span>
<span class="q" style="left:1241.51px;width:30px;top:98.92px">Q2</span>
<span class="q" style="left:1269.89px;width:30px;top:98.92px">Q3</span>
<span class="q" style="left:1298.43px;width:30px;top:98.92px">Q4</span>
<span class="q" style="left:1364.91px;width:40px;top:86.72px">2021</span>
<span class="q" style="left:1326.66px;width:30px;top:98.92px">Q1</span>
<span class="q" style="left:1354.73px;width:30px;top:98.92px">Q2</span>
<span class="q" style="left:1383.12px;width:30px;top:98.92px">Q3</span>
<span class="q" style="left:1411.65px;width:30px;top:98.92px">Q4</span>
<span class="q" style="left:1478.13px;width:40px;top:86.72px">2022</span>
<span class="q" style="left:1439.88px;width:30px;top:98.92px">Q1</span>
<span class="q" style="left:1467.96px;width:30px;top:98.92px">Q2</span>
<span class="q" style="left:1496.34px;width:30px;top:98.92px">Q3</span>
<span class="q" style="left:1524.88px;width:30px;top:98.92px">Q4</span>
<span class="q" style="left:1591.36px;width:40px;top:86.72px">2023</span>
<span class="q" style="left:1553.11px;width:30px;top:98.92px">Q1</span>
<span class="q" style="left:1581.18px;width:30px;top:98.92px">Q2</span>
<span class="q" style="left:1609.56px;width:30px;top:98.92px">Q3</span>
<span class="q" style="left:1638.1px;width:30px;top:98.92px">Q4</span>
<span class="t" style="left:1714.6px;top:86.72px;width:10.9px;overflow:hidden">2024</span>
<span class="q" style="left:1666.48px;width:30px;top:98.92px">Q1</span>
<span class="q" style="left:1694.71px;width:30px;top:98.92px">Q2</span>
</div>
<svg width="1754" height="1240" viewBox="0 0 1754 1240" shape-rendering="crispEdges">
<g shape-rendering="auto">
<rect x="105" y="133.05" width="38" height="1.3" fill="#cacaca"/>
<rect x="143" y="133.05" width="1100" height="1.3" fill="#e9e9e9"/>
<rect x="105" y="156" width="38" height="1.3" fill="#cacaca"/>
<rect x="143" y="156" width="1100" height="1.3" fill="#e9e9e9"/>
<rect x="105" y="178.95" width="38" height="1.3" fill="#cacaca"/>
<rect x="143" y="178.95" width="1100" height="1.3" fill="#e9e9e9"/>
<rect x="105" y="201.9" width="38" height="1.3" fill="#cacaca"/>
<rect x="143" y="201.9" width="1100" height="1.3" fill="#e9e9e9"/>
<rect x="105" y="224.85" width="38" height="1.3" fill="#cacaca"/>
<rect x="143" y="224.85" width="1100" height="1.3" fill="#e9e9e9"/>
<rect x="105" y="247.8" width="38" height="1.3" fill="#cacaca"/>
<rect x="143" y="247.8" width="1100" height="1.3" fill="#e9e9e9"/>
<rect x="105" y="270.75" width="38" height="1.3" fill="#cacaca"/>
<rect x="143" y="270.75" width="1100" height="1.3" fill="#e9e9e9"/>
<rect x="105" y="293.7" width="38" height="1.3" fill="#cacaca"/>
<rect x="143" y="293.7" width="1100" height="1.3" fill="#e9e9e9"/>
<rect x="105" y="316.65" width="38" height="1.3" fill="#cacaca"/>
<rect x="143" y="316.65" width="1100" height="1.3" fill="#e9e9e9"/>
<rect x="105" y="339.6" width="38" height="1.3" fill="#cacaca"/>
<rect x="143" y="339.6" width="1100" height="1.3" fill="#e9e9e9"/>
<rect x="105" y="362.55" width="38" height="1.3" fill="#cacaca"/>
<rect x="143" y="362.55" width="1100" height="1.3" fill="#e9e9e9"/>
<rect x="105" y="385.5" width="38" height="1.3" fill="#cacaca"/>
<rect x="143" y="385.5" width="1100" height="1.3" fill="#e9e9e9"/>
<rect x="105" y="408.45" width="38" height="1.3" fill="#cacaca"/>
<rect x="143" y="408.45" width="1100" height="1.3" fill="#e9e9e9"/>
<rect x="105" y="431.4" width="38" height="1.3" fill="#cacaca"/>
<rect x="143" y="431.4" width="1100" height="1.3" fill="#e9e9e9"/>
<rect x="105" y="454.35" width="38" height="1.3" fill="#cacaca"/>
<rect x="143" y="454.35" width="1100" height="1.3" fill="#e9e9e9"/>
<rect x="105" y="477.3" width="38" height="1.3" fill="#cacaca"/>
<rect x="143" y="477.3" width="1100" height="1.3" fill="#e9e9e9"/>
<rect x="105" y="500.25" width="38" height="1.3" fill="#cacaca"/>
<rect x="143" y="500.25" width="1100" height="1.3" fill="#e9e9e9"/>
<rect x="105" y="523.2" width="38" height="1.3" fill="#cacaca"/>
<rect x="143" y="523.2" width="1100" height="1.3" fill="#e9e9e9"/>
<rect x="105" y="546.15" width="38" height="1.3" fill="#cacaca"/>
<rect x="143" y="546.15" width="1100" height="1.3" fill="#e9e9e9"/>
<rect x="105" y="569.1" width="38" height="1.3" fill="#cacaca"/>
<rect x="143" y="569.1" width="1100" height="1.3" fill="#e9e9e9"/>
<rect x="105" y="592.05" width="38" height="1.3" fill="#cacaca"/>
<rect x="143" y="592.05" width="1100" height="1.3" fill="#e9e9e9"/>
<rect x="105" y="615" width="38" height="1.3" fill="#cacaca"/>
<rect x="143" y="615" width="1100" height="1.3" fill="#e9e9e9"/>
<rect x="105" y="637.95" width="38" height="1.3" fill="#cacaca"/>
<rect x="143" y="637.95" width="1100" height="1.3" fill="#e9e9e9"/>
<rect x="105" y="660.9" width="38" height="1.3" fill="#cacaca"/>
<rect x="143" y="660.9" width="1100" height="1.3" fill="#e9e9e9"/>
<rect x="105" y="683.85" width="38" height="1.3" fill="#cacaca"/>
<rect x="143" y="683.85" width="1100" height="1.3" fill="#e9e9e9"/>
<rect x="105" y="706.8" width="38" height="1.3" fill="#cacaca"/>
<rect x="143" y="706.8" width="1100" height="1.3" fill="#e9e9e9"/>
<rect x="105" y="729.75" width="38" height="1.3" fill="#cacaca"/>
<rect x="143" y="729.75" width="1100" height="1.3" fill="#e9e9e9"/>
<rect x="105" y="752.7" width="38" height="1.3" fill="#cacaca"/>
<rect x="143" y="752.7" width="1100" height="1.3" fill="#e9e9e9"/>
<rect x="105" y="775.65" width="38" height="1.3" fill="#cacaca"/>
<rect x="143" y="775.65" width="1100" height="1.3" fill="#e9e9e9"/>
<rect x="105" y="798.6" width="38" height="1.3" fill="#cacaca"/>
<rect x="143" y="798.6" width="1100" height="1.3" fill="#e9e9e9"/>
<rect x="105" y="821.55" width="38" height="1.3" fill="#cacaca"/>
<rect x="143" y="821.55" width="1100" height="1.3" fill="#e9e9e9"/>
<rect x="105" y="844.5" width="38" height="1.3" fill="#cacaca"/>
<rect x="143" y="844.5" width="1100" height="1.3" fill="#e9e9e9"/>
<rect x="105" y="867.45" width="38" height="1.3" fill="#cacaca"/>
<rect x="143" y="867.45" width="1100" height="1.3" fill="#e9e9e9"/>
<rect x="105" y="890.4" width="38" height="1.3" fill="#cacaca"/>
<rect x="143" y="890.4" width="1100" height="1.3" fill="#e9e9e9"/>
<rect x="105" y="913.35" width="38" height="1.3" fill="#cacaca"/>
<rect x="143" y="913.35" width="1100" height="1.3" fill="#e9e9e9"/>
<rect x="105" y="936.3" width="38" height="1.3" fill="#cacaca"/>
<rect x="143" y="936.3" width="1100" height="1.3" fill="#e9e9e9"/>
<rect x="105" y="959.25" width="38" height="1.3" fill="#cacaca"/>
<rect x="143" y="959.25" width="1100" height="1.3" fill="#e9e9e9"/>
<rect x="105" y="982.2" width="38" height="1.3" fill="#cacaca"/>
<rect x="143" y="982.2" width="1100" height="1.3" fill="#e9e9e9"/>
<rect x="105" y="1005.15" width="38" height="1.3" fill="#cacaca"/>
<rect x="143" y="1005.15" width="1100" height="1.3" fill="#e9e9e9"/>
<rect x="105" y="1028.1" width="38" height="1.3" fill="#cacaca"/>
<rect x="143" y="1028.1" width="1100" height="1.3" fill="#e9e9e9"/>
<rect x="105" y="1051.05" width="38" height="1.3" fill="#cacaca"/>
<rect x="143" y="1051.05" width="1100" height="1.3" fill="#e9e9e9"/>
<rect x="105" y="1074" width="38" height="1.3" fill="#cacaca"/>
<rect x="143" y="1074" width="1100" height="1.3" fill="#e9e9e9"/>
<rect x="105" y="1096.95" width="38" height="1.3" fill="#cacaca"/>
<rect x="143" y="1096.95" width="1100" height="1.3" fill="#e9e9e9"/>
<rect x="105" y="1119.9" width="38" height="1.3" fill="#cacaca"/>
<rect x="143" y="1119.9" width="1100" height="1.3" fill="#e9e9e9"/>
</g>
<rect x="142" y="88" width="1.5" height="1055" fill="#dadada"/>
<rect x="506" y="88" width="1" height="1055" fill="#e2e2e2"/>
<rect x="545" y="88" width="1" height="1055" fill="#e2e2e2"/>
<rect x="599" y="88" width="1" height="1055" fill="#e2e2e2"/>
<rect x="663" y="88" width="1" height="1055" fill="#e2e2e2"/>
<rect x="727" y="88" width="1" height="1055" fill="#e2e2e2"/>
<rect x="791" y="88" width="1" height="1055" fill="#e2e2e2"/>
<rect x="850" y="88" width="1" height="1055" fill="#e2e2e2"/>
<rect x="909" y="88" width="1" height="1055" fill="#e2e2e2"/>
<rect x="963" y="88" width="1" height="1055" fill="#e2e2e2"/>
<rect x="1033" y="88" width="1" height="1055" fill="#e2e2e2"/>
<rect x="1097" y="88" width="1" height="1055" fill="#e2e2e2"/>
<rect x="1135" y="88" width="1" height="1055" fill="#e2e2e2"/>
<rect x="1178" y="88" width="1" height="1055" fill="#e2e2e2"/>
<rect x="105" y="86" width="1619" height="2" fill="#b2b2b2"/>
<rect x="105" y="110" width="1619" height="2" fill="#d6d6d6"/>
<rect x="1242" y="88" width="2" height="1055" fill="#c0c0c0"/>
<defs><clipPath id="gc"><rect x="1244" y="112" width="480" height="1030"/></clipPath></defs>
<rect x="1271" y="99" width="1" height="11" fill="#c8c8c8"/>
<rect x="1299" y="99" width="1" height="11" fill="#c8c8c8"/>
<rect x="1328" y="88" width="1" height="22" fill="#c8c8c8"/>
<rect x="1356" y="99" width="1" height="11" fill="#c8c8c8"/>
<rect x="1384" y="99" width="1" height="11" fill="#c8c8c8"/>
<rect x="1412" y="99" width="1" height="11" fill="#c8c8c8"/>
<rect x="1441" y="88" width="1" height="22" fill="#c8c8c8"/>
<rect x="1469" y="99" width="1" height="11" fill="#c8c8c8"/>
<rect x="1497" y="99" width="1" height="11" fill="#c8c8c8"/>
<rect x="1526" y="99" width="1" height="11" fill="#c8c8c8"/>
<rect x="1554" y="88" width="1" height="22" fill="#c8c8c8"/>
<rect x="1582" y="99" width="1" height="11" fill="#c8c8c8"/>
<rect x="1610" y="99" width="1" height="11" fill="#c8c8c8"/>
<rect x="1639" y="99" width="1" height="11" fill="#c8c8c8"/>
<rect x="1667" y="88" width="1" height="22" fill="#c8c8c8"/>
<rect x="1696" y="99" width="1" height="11" fill="#c8c8c8"/>
<rect x="1723" y="99" width="1" height="11" fill="#d0d0d0"/>
<g clip-path="url(#gc)">
<rect x="1305.7" y="113.2" width="18.6" height="7.7" fill="#ff0000" shape-rendering="auto"/>
<rect x="1302.6" y="159.2" width="10.9" height="7.7" fill="#8ab8e8" shape-rendering="auto"/>
<rect x="1324.3" y="182.1" width="19.9" height="7.7" fill="#ff0000" shape-rendering="auto"/>
<rect x="1205.5" y="205.1" width="4.7" height="7.7" fill="#8ab8e8" shape-rendering="auto"/>
<rect x="1241.2" y="228" width="21.7" height="7.7" fill="#8ab8e8" shape-rendering="auto"/>
<rect x="1258.2" y="250.9" width="47.5" height="7.7" fill="#8ab8e8" shape-rendering="auto"/>
<rect x="1283.3" y="273.9" width="19.9" height="7.7" fill="#8ab8e8" shape-rendering="auto"/>
<rect x="1305.7" y="296.9" width="13" height="7.7" fill="#8ab8e8" shape-rendering="auto"/>
<rect x="1318.7" y="319.8" width="4" height="7.7" fill="#8ab8e8" shape-rendering="auto"/>
<rect x="1322.7" y="342.8" width="18" height="7.7" fill="#8ab8e8" shape-rendering="auto"/>
<rect x="1309.1" y="365.4" width="37.2" height="2.6" fill="#404040" shape-rendering="auto"/>
<rect x="1309.1" y="365.4" width="1.6" height="7.5" fill="#303030" shape-rendering="auto"/>
<rect x="1344.7" y="365.4" width="1.6" height="7.5" fill="#303030" shape-rendering="auto"/>
<rect x="1309.1" y="411.6" width="9.3" height="7.7" fill="#8ab8e8" shape-rendering="auto"/>
<rect x="1322.7" y="434.6" width="4.3" height="7.7" fill="#8ab8e8" shape-rendering="auto"/>
<rect x="1327.1" y="457.5" width="7.1" height="7.7" fill="#8ab8e8" shape-rendering="auto"/>
<rect x="1318.1" y="503.4" width="9.3" height="7.7" fill="#8ab8e8" shape-rendering="auto"/>
<rect x="1334.2" y="526.3" width="8.1" height="7.7" fill="#8ab8e8" shape-rendering="auto"/>
<rect x="1342.3" y="549.3" width="4" height="7.7" fill="#8ab8e8" shape-rendering="auto"/>
<rect x="1328.6" y="595.2" width="9.3" height="7.7" fill="#8ab8e8" shape-rendering="auto"/>
<rect x="1346.3" y="618.1" width="18.6" height="7.7" fill="#8ab8e8" shape-rendering="auto"/>
<rect x="1392.8" y="640.8" width="54.6" height="2.6" fill="#404040" shape-rendering="auto"/>
<rect x="1392.8" y="640.8" width="1.6" height="7.5" fill="#303030" shape-rendering="auto"/>
<rect x="1445.8" y="640.8" width="1.6" height="7.5" fill="#303030" shape-rendering="auto"/>
<rect x="1392.8" y="664" width="7.8" height="7.7" fill="#ff0000" shape-rendering="auto"/>
<rect x="1400.6" y="687" width="11.2" height="7.7" fill="#ff0000" shape-rendering="auto"/>
<rect x="1417.7" y="709.9" width="7.4" height="7.7" fill="#ff0000" shape-rendering="auto"/>
<rect x="1425.1" y="732.9" width="10.9" height="7.7" fill="#8ab8e8" shape-rendering="auto"/>
<rect x="1425.1" y="755.9" width="5.3" height="7.7" fill="#8ab8e8" shape-rendering="auto"/>
<rect x="1438.1" y="778.8" width="6.8" height="7.7" fill="#8ab8e8" shape-rendering="auto"/>
<rect x="1445" y="801.8" width="2.5" height="7.7" fill="#8ab8e8" shape-rendering="auto"/>
<rect x="1400.3" y="824.4" width="57.1" height="2.6" fill="#404040" shape-rendering="auto"/>
<rect x="1400.3" y="824.4" width="1.6" height="7.5" fill="#303030" shape-rendering="auto"/>
<rect x="1455.8" y="824.4" width="1.6" height="7.5" fill="#303030" shape-rendering="auto"/>
<rect x="1400.3" y="847.4" width="57.1" height="2.6" fill="#404040" shape-rendering="auto"/>
<rect x="1400.3" y="847.4" width="1.6" height="7.5" fill="#303030" shape-rendering="auto"/>
<rect x="1455.8" y="847.4" width="1.6" height="7.5" fill="#303030" shape-rendering="auto"/>
<rect x="1400.3" y="870.6" width="7.8" height="7.7" fill="#ff0000" shape-rendering="auto"/>
<rect x="1408" y="893.5" width="12.1" height="7.7" fill="#ff0000" shape-rendering="auto"/>
<rect x="1425.1" y="916.5" width="5" height="7.7" fill="#ff0000" shape-rendering="auto"/>
<rect x="1430.1" y="939.4" width="12.1" height="7.7" fill="#ff0000" shape-rendering="auto"/>
<rect x="1430.1" y="962.4" width="5.6" height="7.7" fill="#ff0000" shape-rendering="auto"/>
<rect x="1442.2" y="985.4" width="7.1" height="7.7" fill="#8ab8e8" shape-rendering="auto"/>
<rect x="1449.3" y="1008.3" width="8.1" height="7.7" fill="#8ab8e8" shape-rendering="auto"/>
<rect x="1449.3" y="1031.2" width="4" height="7.7" fill="#8ab8e8" shape-rendering="auto"/>
<rect x="1271.2" y="1053.9" width="133.1" height="2.6" fill="#404040" shape-rendering="auto"/>
<rect x="1271.2" y="1053.9" width="1.6" height="7.5" fill="#303030" shape-rendering="auto"/>
<rect x="1402.7" y="1053.9" width="1.6" height="7.5" fill="#303030" shape-rendering="auto"/>
<rect x="1271.2" y="1077.2" width="15.2" height="7.7" fill="#8ab8e8" shape-rendering="auto"/>
<rect x="1279" y="1100.1" width="23.3" height="7.7" fill="#8ab8e8" shape-rendering="auto"/>
<rect x="1302.6" y="1123" width="12.7" height="7.7" fill="#8ab8e8" shape-rendering="auto"/>
<rect x="1244" y="230.5" width="13.8" height="2.6" fill="#4a90d8" shape-rendering="auto"/>
<rect x="1259.2" y="250.8" width="27.3848" height="8.1" fill="#fff" shape-rendering="auto"/>
<rect x="1261.2" y="255.2" width="1" height="2" fill="#4a90c8" shape-rendering="auto"/>
<rect x="1264.3" y="255.2" width="1" height="2" fill="#4a90c8" shape-rendering="auto"/>
<rect x="1267.4" y="255.2" width="1" height="2" fill="#4a90c8" shape-rendering="auto"/>
<rect x="1270.5" y="255.2" width="1" height="2" fill="#4a90c8" shape-rendering="auto"/>
<rect x="1273.6" y="255.2" width="1" height="2" fill="#4a90c8" shape-rendering="auto"/>
<rect x="1276.7" y="255.2" width="1" height="2" fill="#4a90c8" shape-rendering="auto"/>
<rect x="1279.8" y="255.2" width="1" height="2" fill="#4a90c8" shape-rendering="auto"/>
<rect x="1282.9" y="255.2" width="1" height="2" fill="#4a90c8" shape-rendering="auto"/>
<rect x="1250" y="112" width="1" height="140" fill="#e00000"/>
<rect x="1258" y="112" width="1" height="1030" fill="#303030"/>
<rect x="1270" y="112" width="1" height="1030" fill="#9ccc9c"/>
<rect x="1271" y="112" width="1" height="960" fill="#e83030"/>
<rect x="1276" y="112" width="2" height="1030" fill="#808080"/>
<rect x="1279" y="112" width="1" height="1030" fill="#606060"/>
<rect x="1287" y="112" width="2" height="159" fill="#88bbee"/>
<rect x="1295" y="112" width="1" height="1030" fill="#1f4a7a"/>
<rect x="1296" y="112" width="1" height="1030" fill="#555"/>
<rect x="1299" y="112" width="1" height="1030" fill="#e00000"/>
<rect x="1300" y="112" width="1" height="1030" fill="#2b8ae0"/>
<rect x="1303" y="112" width="1" height="72" fill="#3a80d0"/>
<rect x="1304" y="112" width="2" height="1030" fill="#2060a8"/>
<rect x="1307" y="112" width="2" height="1030" fill="#88bbee"/>
<rect x="1309" y="112" width="1" height="1030" fill="#b02040"/>
<rect x="1310" y="112" width="2" height="1030" fill="#88bbee"/>
<rect x="1312" y="112" width="1" height="1030" fill="#2b7bd6"/>
<rect x="1318" y="112" width="1" height="1030" fill="#2b7bd6"/>
<rect x="1324" y="112" width="1" height="68" fill="#b02040"/>
<rect x="1326" y="112" width="2" height="1030" fill="#80b0e5"/>
<rect x="1329" y="112" width="1" height="1030" fill="#2b7bd6"/>
<rect x="1330" y="112" width="1" height="1030" fill="#88bbee"/>
<rect x="1331" y="112" width="2" height="1030" fill="#2b7bd6"/>
<rect x="1333" y="112" width="1" height="1030" fill="#6aa5e5"/>
<rect x="1335" y="112" width="1" height="1030" fill="#88bbee"/>
<rect x="1338" y="112" width="1" height="1030" fill="#2b65a8"/>
<rect x="1339" y="112" width="1" height="1030" fill="#808080"/>
<rect x="1343" y="112" width="1" height="1030" fill="#2b7bd6"/>
<rect x="1344" y="112" width="1" height="1030" fill="#444"/>
<rect x="1346" y="112" width="1" height="1030" fill="#88bbee"/>
<rect x="1347" y="112" width="1" height="1030" fill="#2b7bd6"/>
<rect x="1348" y="112" width="1" height="503" fill="#f03030"/>
<rect x="1349" y="112" width="1" height="503" fill="#ffb0b0"/>
<rect x="1351" y="112" width="1" height="1030" fill="#555"/>
<rect x="1360" y="112" width="2" height="1030" fill="#4a90d8"/>
<rect x="1364" y="112" width="1" height="1030" fill="#60a0e0"/>
<rect x="1371" y="112" width="1" height="1030" fill="#555"/>
<rect x="1375" y="112" width="1" height="1030" fill="#2b7bd6"/>
<rect x="1376" y="112" width="1" height="1030" fill="#888"/>
<rect x="1377" y="112" width="2" height="1030" fill="#2a6aaa"/>
<rect x="1379" y="112" width="1" height="1030" fill="#e00000"/>
<rect x="1381" y="112" width="2" height="1030" fill="#1f78d8"/>
<rect x="1383" y="112" width="1" height="1030" fill="#000"/>
<rect x="1385" y="112" width="1" height="1030" fill="#60a0e0"/>
<rect x="1389" y="112" width="1" height="1030" fill="#111"/>
<rect x="1390" y="112" width="2" height="1030" fill="#58a0e8"/>
<rect x="1392" y="112" width="1" height="548" fill="#5a98e0"/>
<rect x="1392" y="660" width="1" height="482" fill="#c02840"/>
<rect x="1395" y="112" width="1" height="1030" fill="#2b7bd6"/>
<rect x="1396" y="112" width="1" height="1030" fill="#666"/>
<rect x="1397" y="112" width="1" height="548" fill="#e04040"/>
<rect x="1398" y="112" width="1" height="1030" fill="#555"/>
<rect x="1401" y="112" width="1" height="1030" fill="#c03040"/>
<rect x="1404" y="112" width="1" height="756" fill="#f05050"/>
<rect x="1406" y="112" width="3" height="1030" fill="#2b7bd6"/>
<rect x="1409" y="112" width="1" height="1030" fill="#000"/>
<rect x="1410" y="112" width="2" height="1030" fill="#3090e8"/>
<rect x="1412" y="112" width="1" height="1030" fill="#2b70c0"/>
<rect x="1413" y="112" width="2" height="1030" fill="#2b7bd6"/>
<rect x="1416" y="112" width="1" height="1030" fill="#2b7bd6"/>
<rect x="1417" y="112" width="1" height="595" fill="#e04050"/>
<rect x="1418" y="112" width="1" height="1030" fill="#2b7bd6"/>
<rect x="1420" y="112" width="1" height="578" fill="#90c0f0"/>
<rect x="1420" y="690" width="1" height="452" fill="#d03040"/>
<rect x="1421" y="112" width="1" height="588" fill="#90c0f0"/>
<rect x="1422" y="112" width="1" height="1030" fill="#c0e0ff"/>
<rect x="1423" y="112" width="2" height="1030" fill="#80b0e0"/>
<rect x="1425" y="112" width="1" height="1030" fill="#1f4a78"/>
<rect x="1426" y="112" width="2" height="1030" fill="#2b7bd6"/>
<rect x="1428" y="112" width="1" height="1030" fill="#7a7a80"/>
<rect x="1429" y="713" width="1" height="249" fill="#e00000"/>
<rect x="1430" y="112" width="1" height="1030" fill="#50a0f0"/>
<rect x="1431" y="112" width="2" height="1030" fill="#2b7bd6"/>
<rect x="1433" y="112" width="2" height="1030" fill="#888078"/>
<rect x="1435" y="112" width="1" height="1030" fill="#a8c8f0"/>
<rect x="1436" y="112" width="1" height="1030" fill="#3a86d6"/>
<rect x="1437" y="112" width="1" height="1030" fill="#8ab8e8"/>
<rect x="1438" y="112" width="1" height="1030" fill="#4a90d8"/>
<rect x="1439" y="112" width="1" height="1030" fill="#b0d4f4"/>
<rect x="1440" y="141" width="1" height="23" fill="#222"/>
<rect x="1440" y="164" width="1" height="22" fill="#2b7bd6"/>
<rect x="1440" y="186" width="1" height="956" fill="#e00000"/>
<rect x="1440" y="118" width="1" height="23" fill="#e00000"/>
<rect x="1442" y="112" width="1" height="1030" fill="#2b7bd6"/>
<rect x="1445" y="112" width="1" height="1030" fill="#2b7bd6"/>
<rect x="1448" y="112" width="2" height="1030" fill="#1070d0"/>
<rect x="1452" y="112" width="2" height="1030" fill="#1f78d8"/>
<rect x="1455" y="112" width="2" height="1030" fill="#2b7bd6"/>
<rect x="1457" y="112" width="1" height="1030" fill="#5070b8"/>
<rect x="1458" y="112" width="3" height="1030" fill="#2b7bd6"/>
<rect x="1463" y="112" width="2" height="1030" fill="#88bbee"/>
<rect x="1465" y="112" width="1" height="1030" fill="#e84040"/>
<rect x="1467" y="112" width="2" height="1030" fill="#703030"/>
<rect x="1471" y="112" width="2" height="1030" fill="#153a68"/>
<rect x="1483" y="112" width="1" height="1030" fill="#4088d8"/>
<rect x="1488" y="112" width="1" height="1030" fill="#3070b8"/>
<rect x="1489" y="112" width="2" height="1030" fill="#88bbee"/>
<rect x="1492" y="112" width="1" height="1030" fill="#303030"/>
<rect x="1498" y="112" width="1" height="1030" fill="#70a8e0"/>
<rect x="1499" y="112" width="1" height="1030" fill="#c0c0c0"/>
<rect x="1500" y="112" width="1" height="1030" fill="#555"/>
<rect x="1505" y="112" width="2" height="1030" fill="#3a88d8"/>
<rect x="1511" y="112" width="1" height="1030" fill="#60a0e0"/>
<rect x="1514" y="112" width="1" height="1030" fill="#2b7bd6"/>
<rect x="1523" y="112" width="2" height="1030" fill="#88bbee"/>
<rect x="1525" y="112" width="3" height="1030" fill="#2878c8"/>
<rect x="1536" y="112" width="2" height="1030" fill="#2b7bd6"/>
<rect x="1538" y="112" width="1" height="1030" fill="#555"/>
<rect x="1541" y="112" width="1" height="1030" fill="#2b7bd6"/>
<rect x="1544" y="112" width="1" height="1030" fill="#2b7bd6"/>
<rect x="1549" y="112" width="2" height="1030" fill="#2b7bd6"/>
<rect x="1554" y="112" width="1" height="1030" fill="#e84040"/>
<rect x="1557" y="112" width="1" height="1030" fill="#2b7bd6"/>
<rect x="1571" y="112" width="1" height="1030" fill="#60a0e0"/>
<rect x="1593" y="112" width="1" height="1030" fill="#222"/>
<rect x="1596" y="112" width="2" height="1030" fill="#1f78d8"/>
<rect x="1598" y="112" width="1" height="1030" fill="#602028"/>
<rect x="1599" y="112" width="1" height="1030" fill="#404878"/>
<rect x="1600" y="112" width="3" height="1030" fill="#2a3a50"/>
<rect x="1604" y="112" width="2" height="1030" fill="#1f3050"/>
<rect x="1713" y="112" width="1" height="1030" fill="#909090"/>
<rect x="1717" y="112" width="1" height="1030" fill="#502020"/>
<rect x="1721" y="112" width="1" height="1030" fill="#555"/>
<g shape-rendering="auto">
<text x="1311.77" y="143.45" font-family="Liberation Serif, serif" font-size="11.2" fill="#222" opacity="0.78" textLength="19.5" lengthAdjust="spacingAndGlyphs">12/10</text>
<text x="1318.29" y="395.9" font-family="Liberation Serif, serif" font-size="11.2" fill="#222" opacity="0.78" textLength="15.6" lengthAdjust="spacingAndGlyphs">2/11</text>
<text x="1327.28" y="487.7" font-family="Liberation Serif, serif" font-size="11.2" fill="#222" opacity="0.78" textLength="15.6" lengthAdjust="spacingAndGlyphs">1/12</text>
<text x="1337.83" y="579.5" font-family="Liberation Serif, serif" font-size="11.2" fill="#222" opacity="0.78" textLength="11.7" lengthAdjust="spacingAndGlyphs">4/1</text>
<rect x="1305.7" y="113.2" width="18.6" height="7.7" fill="#ff0000" opacity="0.92"/>
<rect x="1302.6" y="159.2" width="10.9" height="7.7" fill="#8ab8e8" opacity="0.85"/>
<rect x="1324.3" y="182.1" width="19.9" height="7.7" fill="#ff0000" opacity="0.92"/>
<rect x="1244.0" y="228.0" width="18.9" height="7.7" fill="#8ab8e8" opacity="0.85"/>
<rect x="1286.6" y="250.9" width="19.1" height="7.7" fill="#8ab8e8" opacity="0.85"/>
<rect x="1283.3" y="273.9" width="19.9" height="7.7" fill="#8ab8e8" opacity="0.85"/>
<rect x="1305.7" y="296.9" width="13.0" height="7.7" fill="#8ab8e8" opacity="0.85"/>
<rect x="1318.7" y="319.8" width="4.0" height="7.7" fill="#8ab8e8" opacity="0.85"/>
<rect x="1322.7" y="342.8" width="18.0" height="7.7" fill="#8ab8e8" opacity="0.85"/>
<rect x="1309.1" y="411.6" width="9.3" height="7.7" fill="#8ab8e8" opacity="0.85"/>
<rect x="1322.7" y="434.6" width="4.3" height="7.7" fill="#8ab8e8" opacity="0.85"/>
<rect x="1327.1" y="457.5" width="7.1" height="7.7" fill="#8ab8e8" opacity="0.85"/>
<rect x="1318.1" y="503.4" width="9.3" height="7.7" fill="#8ab8e8" opacity="0.85"/>
<rect x="1334.2" y="526.3" width="8.1" height="7.7" fill="#8ab8e8" opacity="0.85"/>
<rect x="1342.3" y="549.3" width="4.0" height="7.7" fill="#8ab8e8" opacity="0.85"/>
<rect x="1328.6" y="595.2" width="9.3" height="7.7" fill="#8ab8e8" opacity="0.85"/>
<rect x="1346.3" y="618.1" width="18.6" height="7.7" fill="#8ab8e8" opacity="0.85"/>
<rect x="1392.8" y="664.0" width="7.8" height="7.7" fill="#ff0000" opacity="0.92"/>
<rect x="1400.6" y="687.0" width="11.2" height="7.7" fill="#ff0000" opacity="0.92"/>
<rect x="1417.7" y="709.9" width="7.4" height="7.7" fill="#ff0000" opacity="0.92"/>
<rect x="1438.1" y="778.8" width="6.8" height="7.7" fill="#8ab8e8" opacity="0.85"/>
<rect x="1445.0" y="801.8" width="2.5" height="7.7" fill="#8ab8e8" opacity="0.85"/>
<rect x="1400.3" y="870.6" width="7.8" height="7.7" fill="#ff0000" opacity="0.92"/>
<rect x="1408.0" y="893.5" width="12.1" height="7.7" fill="#ff0000" opacity="0.92"/>
<rect x="1425.1" y="916.5" width="5.0" height="7.7" fill="#ff0000" opacity="0.92"/>
<rect x="1430.1" y="939.4" width="12.1" height="7.7" fill="#ff0000" opacity="0.92"/>
<rect x="1430.1" y="962.4" width="5.6" height="7.7" fill="#ff0000" opacity="0.92"/>
<rect x="1442.2" y="985.4" width="7.1" height="7.7" fill="#8ab8e8" opacity="0.85"/>
<rect x="1449.3" y="1008.3" width="8.1" height="7.7" fill="#8ab8e8" opacity="0.85"/>
<rect x="1449.3" y="1031.2" width="4.0" height="7.7" fill="#8ab8e8" opacity="0.85"/>
<rect x="1271.2" y="1077.2" width="15.2" height="7.7" fill="#8ab8e8" opacity="0.85"/>
<rect x="1279.0" y="1100.1" width="23.3" height="7.7" fill="#8ab8e8" opacity="0.85"/>
<rect x="1302.6" y="1123.0" width="12.7" height="7.7" fill="#8ab8e8" opacity="0.85"/>
<g shape-rendering="crispEdges" opacity="0.8">
<rect x="1295" y="112" width="1" height="1030" fill="#1f4a7a"/>
<rect x="1296" y="112" width="1" height="1030" fill="#555"/>
<rect x="1299" y="112" width="1" height="1030" fill="#e00000"/>
<rect x="1300" y="112" width="1" height="1030" fill="#2b8ae0"/>
<rect x="1304" y="112" width="2" height="1030" fill="#2060a8"/>
<rect x="1307" y="112" width="2" height="1030" fill="#88bbee"/>
<rect x="1310" y="112" width="2" height="1030" fill="#88bbee"/>
<rect x="1312" y="112" width="1" height="1030" fill="#2b7bd6"/>
<rect x="1329" y="112" width="1" height="1030" fill="#2b7bd6"/>
<rect x="1331" y="112" width="2" height="1030" fill="#2b7bd6"/>
<rect x="1406" y="112" width="3" height="1030" fill="#2b7bd6"/>
<rect x="1409" y="112" width="1" height="1030" fill="#000"/>
<rect x="1410" y="112" width="2" height="1030" fill="#3090e8"/>
<rect x="1413" y="112" width="2" height="1030" fill="#2b7bd6"/>
</g>
<rect x="1306" y="113.2" width="19" height="7.7" fill="#ff0000"/>
<rect x="1324.3" y="182.1" width="19.9" height="7.7" fill="#ff0000"/>
<rect x="1307" y="113.2" width="2" height="7.7" fill="#3a6ad0" opacity="0.55"/>
<rect x="1310" y="113.2" width="1.5" height="7.7" fill="#3a6ad0" opacity="0.55"/>
<rect x="1326.7" y="182.1" width="1.3" height="7.7" fill="#3a6ad0" opacity="0.6"/>
<rect x="1330.3" y="182.1" width="1.1" height="7.7" fill="#3a6ad0" opacity="0.6"/>
<rect x="1332.8" y="182.1" width="1.2" height="7.7" fill="#3a6ad0" opacity="0.6"/>
<g opacity="0.62">
<rect x="1309.1" y="365.4" width="38.2" height="2.6" fill="#303030"/>
<rect x="1309.1" y="365.4" width="1.6" height="7.5" fill="#202020"/>
<rect x="1345.7" y="365.4" width="1.6" height="7.5" fill="#202020"/>
</g>
<g opacity="0.62">
<rect x="1392.8" y="640.8" width="55.6" height="2.6" fill="#303030"/>
<rect x="1392.8" y="640.8" width="1.6" height="7.5" fill="#202020"/>
<rect x="1446.8" y="640.8" width="1.6" height="7.5" fill="#202020"/>
</g>
<g opacity="0.62">
<rect x="1400.3" y="824.4" width="58.1" height="2.6" fill="#303030"/>
<rect x="1400.3" y="824.4" width="1.6" height="7.5" fill="#202020"/>
<rect x="1456.8" y="824.4" width="1.6" height="7.5" fill="#202020"/>
</g>
<g opacity="0.62">
<rect x="1400.3" y="847.4" width="58.1" height="2.6" fill="#303030"/>
<rect x="1400.3" y="847.4" width="1.6" height="7.5" fill="#202020"/>
<rect x="1456.8" y="847.4" width="1.6" height="7.5" fill="#202020"/>
</g>
<g opacity="0.62">
<rect x="1271.2" y="1053.9" width="134.1" height="2.6" fill="#303030"/>
<rect x="1271.2" y="1053.9" width="1.6" height="7.5" fill="#202020"/>
<rect x="1403.7" y="1053.9" width="1.6" height="7.5" fill="#202020"/>
</g>
</g>
<g shape-rendering="auto" stroke-linecap="butt">
<path d="M1324.29,117.1 H1325.3 Q1328.3,117.1 1328.3,120.1 V178.1" fill="none" stroke="#e60000" stroke-width="1.1"/>
<polygon points="1324,177.5 1332.6,177.5 1328.3,182.1" fill="#e60000"/>
<path d="M1324.29,117.1 H1437.5 Q1440.5,117.1 1440.5,120.1" fill="none" stroke="#e60000" stroke-width="1.2"/>
<path d="M1306,140.05 H1437.5 Q1440.5,140.05 1440.5,143.05" fill="none" stroke="#222" stroke-width="1.2"/>
<path d="M1313.43,163 H1437.5 Q1440.5,163 1440.5,166" fill="none" stroke="#3a86d6" stroke-width="1.2"/>
<path d="M1344.14,185.95 H1437.5 Q1440.5,185.95 1440.5,188.95" fill="none" stroke="#e60000" stroke-width="1.6"/>
<path d="M1390,185.95 Q1392.8,185.95 1392.8,188.95 V660" fill="none" stroke="#e60000" stroke-width="1"/>
<path d="M1397,185.95 Q1399.7,185.95 1399.7,188.95 V868" fill="none" stroke="#e60000" stroke-width="1"/>
<path d="M1304.5,112 V182.95 Q1304.5,185.95 1307.5,185.95 H1320" fill="none" stroke="#3a86d6" stroke-width="2"/>
<polygon points="1320.2,181.75 1320.2,190.15 1325,185.95" fill="#2b7bd6"/>
<polygon points="1320.3,177.5 1328.9,177.5 1324.6,182.1" fill="#2b7bd6"/>
<path d="M1244,209.35 H1280.5 Q1283.5,209.35 1283.5,212.35 V269.9" fill="none" stroke="#3a86d6" stroke-width="1.1"/>
<path d="M1258.5,209.35 V246.95" fill="none" stroke="#3a86d6" stroke-width="1.1"/>
<polygon points="1254.2,246.35 1262.8,246.35 1258.5,250.95" fill="#2b7bd6"/>
<polygon points="1279.4,269.3 1288,269.3 1283.7,273.9" fill="#2b7bd6"/>
<polygon points="1283.9,269.3 1292.5,269.3 1288.2,273.9" fill="#2b7bd6"/>
<path d="M1250.5,250 Q1250.5,254.8 1253.5,254.8" fill="none" stroke="#e60000" stroke-width="1.1"/>
<polygon points="1253.6,250.6 1253.6,259 1258.4,254.8" fill="#e60000"/>
<path d="M1262.87,231.85 H1280.5 Q1283.5,231.85 1283.5,234.85" fill="none" stroke="#3a86d6" stroke-width="1.1"/>
<path d="M1254.4,258.8 V274.75 Q1254.4,277.75 1257.4,277.75 H1279" fill="none" stroke="#3a86d6" stroke-width="1.1"/>
<polygon points="1279.1,273.55 1279.1,281.95 1283.9,277.75" fill="#2b7bd6"/>
<path d="M1303.19,277.75 H1304.2 Q1307.2,277.75 1307.2,280.75 V292.85" fill="none" stroke="#3a86d6" stroke-width="1.1"/>
<polygon points="1302.9,292.25 1311.5,292.25 1307.2,296.85" fill="#2b7bd6"/>
<path d="M1305.68,254.8 H1308.5 Q1311.5,254.8 1311.5,257.8 V292.85" fill="none" stroke="#3a86d6" stroke-width="1.1"/>
<polygon points="1307.2,292.25 1315.8,292.25 1311.5,296.85" fill="#2b7bd6"/>
<path d="M1318.7,300.7 H1319.2 Q1322.2,300.7 1322.2,303.7 V315.8" fill="none" stroke="#3a86d6" stroke-width="1.1"/>
<polygon points="1317.9,315.2 1326.5,315.2 1322.2,319.8" fill="#2b7bd6"/>
<path d="M1322.74,323.65 H1323.6 Q1326.6,323.65 1326.6,326.65 V338.75" fill="none" stroke="#3a86d6" stroke-width="1.1"/>
<polygon points="1322.3,338.15 1330.9,338.15 1326.6,342.75" fill="#2b7bd6"/>
<path d="M1322.74,438.4 H1317.7 Q1314.7,438.4 1314.7,435.4 V349.6 Q1314.7,346.6 1317.7,346.6 H1319" fill="none" stroke="#3a86d6" stroke-width="1.1"/>
<polygon points="1318.8,342.4 1318.8,350.8 1323.6,346.6" fill="#2b7bd6"/>
<path d="M1340.73,346.6 H1342.5 Q1345.5,346.6 1345.5,349.6 V1142" fill="none" stroke="#3a86d6" stroke-width="1.1"/>
<path d="M1318.39,415.45 H1319.9 Q1322.9,415.45 1322.9,418.45 V430.55" fill="none" stroke="#3a86d6" stroke-width="1.1"/>
<polygon points="1318.6,429.95 1327.2,429.95 1322.9,434.55" fill="#2b7bd6"/>
<path d="M1322.74,323.65 H1323.6 Q1326.6,323.65 1326.6,326.65 V430.55" fill="none" stroke="#3a86d6" stroke-width="1.1"/>
<polygon points="1322.3,429.95 1330.9,429.95 1326.6,434.55" fill="#2b7bd6"/>
<path d="M1327.08,438.4 H1327.08 Q1330.08,438.4 1330.08,441.4 V453.5" fill="none" stroke="#3a86d6" stroke-width="1.1"/>
<polygon points="1325.78,452.9 1334.38,452.9 1330.08,457.5" fill="#2b7bd6"/>
<path d="M1327.39,507.25 H1334.21 Q1337.21,507.25 1337.21,510.25 V522.35" fill="none" stroke="#3a86d6" stroke-width="1.1"/>
<polygon points="1332.91,521.75 1341.51,521.75 1337.21,526.35" fill="#2b7bd6"/>
<path d="M1334.21,461.35 H1334.21 Q1337.21,461.35 1337.21,464.35 V522.35" fill="none" stroke="#3a86d6" stroke-width="1.1"/>
<polygon points="1332.91,521.75 1341.51,521.75 1337.21,526.35" fill="#2b7bd6"/>
<path d="M1342.28,530.2 H1342.28 Q1345.28,530.2 1345.28,533.2 V545.3" fill="none" stroke="#3a86d6" stroke-width="1.1"/>
<polygon points="1340.98,544.7 1349.58,544.7 1345.28,549.3" fill="#2b7bd6"/>
<path d="M1346.31,553.15 H1346.31 Q1349.31,553.15 1349.31,556.15 V614.15" fill="none" stroke="#3a86d6" stroke-width="1.1"/>
<polygon points="1345.01,613.55 1353.61,613.55 1349.31,618.15" fill="#2b7bd6"/>
<path d="M1337.94,599.05 H1345 Q1348,599.05 1348,602.05 V614.15" fill="none" stroke="#3a86d6" stroke-width="1.1"/>
<polygon points="1343.7,613.55 1352.3,613.55 1348,618.15" fill="#2b7bd6"/>
<polygon points="1344.7,613.55 1353.3,613.55 1349,618.15" fill="#2b7bd6"/>
<path d="M1364.92,622 H1397.7 Q1400.7,622 1400.7,625 V866.6" fill="none" stroke="#3a86d6" stroke-width="1.1"/>
<polygon points="1392.2,659.45 1400.8,659.45 1396.5,664.05" fill="#2b7bd6"/>
<polygon points="1397.2,659.45 1405.8,659.45 1401.5,664.05" fill="#e60000"/>
<polygon points="1396.7,866 1405.3,866 1401,870.6" fill="#2b7bd6"/>
<polygon points="1400.2,866 1408.8,866 1404.5,870.6" fill="#e60000"/>
<path d="M1400.6,667.9 H1402.5 Q1405.5,667.9 1405.5,670.9 V683" fill="none" stroke="#e60000" stroke-width="1.1"/>
<polygon points="1401.2,682.4 1409.8,682.4 1405.5,687" fill="#e60000"/>
<path d="M1400.6,690.85 H1395.5 Q1392.5,690.85 1392.5,693.85 V1142" fill="none" stroke="#e60000" stroke-width="1"/>
<path d="M1411.76,690.85 H1417.6 Q1420.6,690.85 1420.6,693.85 V705.95" fill="none" stroke="#e60000" stroke-width="1.1"/>
<polygon points="1416.3,705.35 1424.9,705.35 1420.6,709.95" fill="#e60000"/>
<path d="M1425.1,713.8 H1434 Q1437,713.8 1437,716.8 V940" fill="none" stroke="#e60000" stroke-width="1"/>
<path d="M1428.8,713.8 V751.85" fill="none" stroke="#e60000" stroke-width="1.4"/>
<polygon points="1425.2,728.3 1433.8,728.3 1429.5,732.9" fill="#e60000"/>
<polygon points="1420.7,728.3 1429.3,728.3 1425,732.9" fill="#2b7bd6"/>
<polygon points="1425.2,751.25 1433.8,751.25 1429.5,755.85" fill="#e60000"/>
<path d="M1435.96,736.75 H1441.6 Q1444.6,736.75 1444.6,739.75 V797.75" fill="none" stroke="#3a86d6" stroke-width="1.1"/>
<path d="M1430.38,759.7 H1441.6 Q1444.6,759.7 1444.6,762.7 V797.75" fill="none" stroke="#3a86d6" stroke-width="1.1"/>
<polygon points="1436.5,774.2 1445.1,774.2 1440.8,778.8" fill="#2b7bd6"/>
<polygon points="1442.7,797.15 1451.3,797.15 1447,801.75" fill="#2b7bd6"/>
<path d="M1444.96,782.65 H1448" fill="none" stroke="#3a86d6" stroke-width="1.1"/>
<path d="M1447.44,805.6 H1467.6 Q1470.6,805.6 1470.6,808.6 V1142" fill="none" stroke="#3a86d6" stroke-width="1.1"/>
<path d="M1408.04,874.45 H1409.4 Q1412.4,874.45 1412.4,877.45 V889.55" fill="none" stroke="#e60000" stroke-width="1.1"/>
<polygon points="1408.1,888.95 1416.7,888.95 1412.4,893.55" fill="#e60000"/>
<polygon points="1404,888.95 1412.6,888.95 1408.3,893.55" fill="#2b7bd6"/>
<polygon points="1404.8,906.15 1413.4,906.15 1409.1,901.55" fill="#2b7bd6"/>
<path d="M1420.14,897.4 H1421.7 Q1424.7,897.4 1424.7,900.4 V912.5" fill="none" stroke="#e60000" stroke-width="1.1"/>
<polygon points="1420.4,911.9 1429,911.9 1424.7,916.5" fill="#e60000"/>
<polygon points="1425,911.9 1433.6,911.9 1429.3,916.5" fill="#e60000"/>
<path d="M1430.07,920.35 H1430.6 Q1433.6,920.35 1433.6,923.35 V935.45" fill="none" stroke="#e60000" stroke-width="1.1"/>
<polygon points="1429.3,934.85 1437.9,934.85 1433.6,939.45" fill="#e60000"/>
<path d="M1430.07,943.3 H1429.4 Q1426.4,943.3 1426.4,946.3 V1142" fill="none" stroke="#e60000" stroke-width="1"/>
<path d="M1433.6,939.45 V958.4" fill="none" stroke="#e60000" stroke-width="1.2"/>
<polygon points="1429.3,957.8 1437.9,957.8 1433.6,962.4" fill="#e60000"/>
<path d="M1442.16,943.3 H1445 Q1448,943.3 1448,946.3 V981.35" fill="none" stroke="#e60000" stroke-width="1.1"/>
<polygon points="1443.7,980.75 1452.3,980.75 1448,985.35" fill="#e60000"/>
<path d="M1435.65,966.25 H1445 Q1448,966.25 1448,969.25 V1027.25" fill="none" stroke="#e60000" stroke-width="1.1"/>
<polygon points="1441.7,1003.7 1450.3,1003.7 1446,1008.3" fill="#e60000"/>
<polygon points="1446.2,1003.7 1454.8,1003.7 1450.5,1008.3" fill="#2b7bd6"/>
<polygon points="1441.7,1026.65 1450.3,1026.65 1446,1031.25" fill="#e60000"/>
<polygon points="1446.2,1026.65 1454.8,1026.65 1450.5,1031.25" fill="#2b7bd6"/>
<path d="M1449.3,989.2 H1451 Q1454,989.2 1454,992.2 V1027.25" fill="none" stroke="#3a86d6" stroke-width="1.1"/>
<path d="M1453.33,1035.1 H1467.6 Q1470.6,1035.1 1470.6,1038.1 V1142" fill="none" stroke="#3a86d6" stroke-width="1.1"/>
<polygon points="1267.5,1072.55 1276.1,1072.55 1271.8,1077.15" fill="#e60000"/>
<path d="M1286.44,1081 H1307.2 Q1310.2,1081 1310.2,1084 V1119.05" fill="none" stroke="#3a86d6" stroke-width="1.1"/>
<polygon points="1302.9,1118.45 1311.5,1118.45 1307.2,1123.05" fill="#2b7bd6"/>
<polygon points="1307.4,1099.75 1307.4,1108.15 1302.6,1103.95" fill="#2b7bd6"/>
<path d="M1307,1103.95 H1311.6 Q1314.6,1103.95 1314.6,1106.95 V1142" fill="none" stroke="#3a86d6" stroke-width="1.1"/>
<path d="M1315.29,1126.9 H1316.8 Q1319.8,1126.9 1319.8,1129.9 V1142" fill="none" stroke="#3a86d6" stroke-width="1.1"/>
<path d="M1305.57,140.05 H1307.07 V155.15" fill="none" stroke="#111" stroke-width="1.2"/>
<polygon points="1302.77,154.55 1311.37,154.55 1307.07,159.15" fill="#111"/>
<path d="M1312.09,392.5 H1313.59 V407.6" fill="none" stroke="#111" stroke-width="1.2"/>
<polygon points="1309.29,407 1317.89,407 1313.59,411.6" fill="#111"/>
<path d="M1321.08,484.3 H1322.58 V499.4" fill="none" stroke="#111" stroke-width="1.2"/>
<polygon points="1318.28,498.8 1326.88,498.8 1322.58,503.4" fill="#111"/>
<path d="M1331.63,576.1 H1333.13 V591.2" fill="none" stroke="#111" stroke-width="1.2"/>
<polygon points="1328.83,590.6 1337.43,590.6 1333.13,595.2" fill="#111"/>
<polygon points="1300.37,140.05 1303.77,136.25 1307.17,140.05 1303.77,143.85" fill="#2a2a2a"/>
<polygon points="1306.89,392.5 1310.29,388.7 1313.69,392.5 1310.29,396.3" fill="#2a2a2a"/>
<polygon points="1315.88,484.3 1319.28,480.5 1322.68,484.3 1319.28,488.1" fill="#2a2a2a"/>
<polygon points="1326.43,576.1 1329.83,572.3 1333.23,576.1 1329.83,579.9" fill="#2a2a2a"/>
<polygon points="1300.9,108.8 1309.5,108.8 1305.2,113.4" fill="#e60000"/>
<polygon points="1306.2,108.8 1314.8,108.8 1310.5,113.4" fill="#222"/>
</g>
</g>
<g shape-rendering="auto">
<rect x="410.3" y="1151.6" width="80.7" height="8.2" fill="#8ab8e8"/>
<rect x="411.5" y="1170.5" width="1" height="4" fill="#4a90c8"/>
<rect x="415.8" y="1170.5" width="1" height="4" fill="#4a90c8"/>
<rect x="420" y="1170.5" width="1" height="4" fill="#4a90c8"/>
<rect x="424.2" y="1170.5" width="1" height="4" fill="#4a90c8"/>
<rect x="428.5" y="1170.5" width="1" height="4" fill="#4a90c8"/>
<rect x="432.8" y="1170.5" width="1" height="4" fill="#4a90c8"/>
<rect x="437" y="1170.5" width="1" height="4" fill="#4a90c8"/>
<rect x="441.2" y="1170.5" width="1" height="4" fill="#4a90c8"/>
<rect x="445.5" y="1170.5" width="1" height="4" fill="#4a90c8"/>
<rect x="449.8" y="1170.5" width="1" height="4" fill="#4a90c8"/>
<rect x="454" y="1170.5" width="1" height="4" fill="#4a90c8"/>
<rect x="458.2" y="1170.5" width="1" height="4" fill="#4a90c8"/>
<rect x="462.5" y="1170.5" width="1" height="4" fill="#4a90c8"/>
<rect x="466.8" y="1170.5" width="1" height="4" fill="#4a90c8"/>
<rect x="471" y="1170.5" width="1" height="4" fill="#4a90c8"/>
<rect x="475.2" y="1170.5" width="1" height="4" fill="#4a90c8"/>
<rect x="479.5" y="1170.5" width="1" height="4" fill="#4a90c8"/>
<rect x="483.8" y="1170.5" width="1" height="4" fill="#4a90c8"/>
<rect x="488" y="1170.5" width="1" height="4" fill="#4a90c8"/>
<polygon points="410.6,1185.8 414.4,1181.9 418.2,1185.8 414.4,1189.7" fill="#555"/>
<polygon points="410.6,1185.8 414.4,1181.8999999999999 418.2,1185.8 414.4,1189.7" fill="#666" stroke="#222" stroke-width="0.8"/>
<rect x="594.4" y="1152.7" width="74.2" height="2.2" fill="#222"/>
<rect x="594.4" y="1151.3" width="2.2" height="7.6" fill="#111"/>
<rect x="666.4" y="1151.3" width="2.2" height="7.6" fill="#111"/>
<rect x="594.4" y="1167.7" width="74.2" height="2.2" fill="#9a9a9a"/>
<rect x="594.4" y="1166.3" width="2.2" height="7.6" fill="#777"/>
<rect x="666.4" y="1166.3" width="2.2" height="7.6" fill="#777"/>
<rect x="592.3" y="1182.2" width="79.6" height="7.2" fill="#fff" stroke="#dcdcdc" stroke-width="1"/>
<polygon points="774,1155.3 777.2,1151.9 780.4,1155.3 777.2,1158.7 " fill="#fff" stroke="#c8c8c8" stroke-width="0.9"/>
<rect x="776.3" y="1167.7" width="74.3" height="2.2" fill="#d8d8d8"/>
<rect x="776.3" y="1166.3" width="2.2" height="7.6" fill="#a8a8a8"/>
<rect x="848.4" y="1166.3" width="2.2" height="7.6" fill="#a8a8a8"/>
<rect x="776.3" y="1181.5" width="74.3" height="8.4" fill="#7fcdd4"/>
<rect x="776.3" y="1181.5" width="2.2" height="8.4" fill="#2a9aa6"/>
<rect x="848.4" y="1181.5" width="2.2" height="8.4" fill="#2a9aa6"/>
<defs><linearGradient id="dg" x1="0" x2="1" y1="0" y2="0"><stop offset="0" stop-color="#e8f6f8"/><stop offset=".1" stop-color="#7fcdd4"/><stop offset=".9" stop-color="#7fcdd4"/><stop offset="1" stop-color="#e8f6f8"/></linearGradient></defs>
<rect x="954.9" y="1151.4" width="80.7" height="8.4" fill="url(#dg)"/>
<rect x="955" y="1169.4" width="80.5" height="5.2" fill="#2a9aa6"/>
<rect x="957.6" y="1182.2" width="74.3" height="2.2" fill="#333"/>
<rect x="957.6" y="1180.8" width="2.2" height="7.6" fill="#111"/>
<rect x="1029.7" y="1180.8" width="2.2" height="7.6" fill="#111"/>
<path d="M1141.7,1152.2 H1137 V1158.4 H1141.7" fill="none" stroke="#2a9aa6" stroke-width="1.7"/>
<path d="M1138.2,1167.4 H1142.9 V1173.6 H1138.2" fill="none" stroke="#2a9aa6" stroke-width="1.7"/>
<rect x="1136.2" y="1182" width="80.8" height="7.6" fill="#c6c6c6"/>
<polygon points="1317.5,1155.3 1321.3,1151.5 1325.1,1155.3 1321.3,1159.1000000000001" fill="#c4c4c4" stroke="#777" stroke-width="0.9"/>
<polygon points="1319.8,1166.6 1323.4,1166.6 1323.4,1170 1325.7,1170 1321.6,1174.5 1317.5,1170 1319.8,1170" fill="#5aaa1e"/>
<rect x="1317.5" y="1182" width="80.5" height="7.6" fill="#ff0000"/>
<rect x="1501.5" y="1156.1" width="0.9" height="2.8" fill="#e88a98"/>
<rect x="1505.8" y="1156.1" width="0.9" height="2.8" fill="#e88a98"/>
<rect x="1510" y="1156.1" width="0.9" height="2.8" fill="#e88a98"/>
<rect x="1514.2" y="1156.1" width="0.9" height="2.8" fill="#e88a98"/>
<rect x="1518.5" y="1156.1" width="0.9" height="2.8" fill="#e88a98"/>
<rect x="1522.8" y="1156.1" width="0.9" height="2.8" fill="#e88a98"/>
<rect x="1527" y="1156.1" width="0.9" height="2.8" fill="#e88a98"/>
<rect x="1531.2" y="1156.1" width="0.9" height="2.8" fill="#e88a98"/>
<rect x="1535.5" y="1156.1" width="0.9" height="2.8" fill="#e88a98"/>
<rect x="1539.8" y="1156.1" width="0.9" height="2.8" fill="#e88a98"/>
<rect x="1544" y="1156.1" width="0.9" height="2.8" fill="#e88a98"/>
<rect x="1548.2" y="1156.1" width="0.9" height="2.8" fill="#e88a98"/>
<rect x="1552.5" y="1156.1" width="0.9" height="2.8" fill="#e88a98"/>
<rect x="1556.8" y="1156.1" width="0.9" height="2.8" fill="#e88a98"/>
<rect x="1561" y="1156.1" width="0.9" height="2.8" fill="#e88a98"/>
<rect x="1565.2" y="1156.1" width="0.9" height="2.8" fill="#e88a98"/>
<rect x="1569.5" y="1156.1" width="0.9" height="2.8" fill="#e88a98"/>
<rect x="1573.8" y="1156.1" width="0.9" height="2.8" fill="#e88a98"/>
<rect x="1578" y="1156.1" width="0.9" height="2.8" fill="#e88a98"/>
<rect x="1499.3" y="1168.9" width="80" height="3.1" fill="#3a86d6"/>
<rect x="1499.3" y="1183.9" width="80" height="3.1" fill="#2a9aa6"/>
</g>
<rect x="105" y="1142" width="1619" height="2" fill="#dcdcdc"/>
<rect x="105" y="1144" width="1619" height="1" fill="#6a6a6a"/>
<rect x="105" y="1196" width="1619" height="1" fill="#444"/>
<rect x="309" y="1145" width="1" height="51" fill="#444"/>
<rect x="104" y="62" width="1621" height="1" fill="#000"/>
<rect x="104" y="1218" width="1621" height="1" fill="#000"/>
<rect x="104" y="62" width="1" height="1157" fill="#000"/>
<rect x="1724" y="62" width="1" height="1157" fill="#000"/>
</svg>
</body></html>
